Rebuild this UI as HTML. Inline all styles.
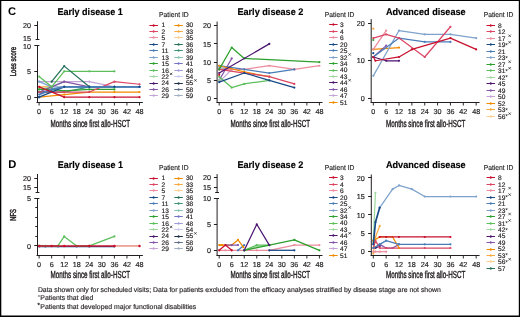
<!DOCTYPE html><html><head><meta charset="utf-8"><style>html,body{margin:0;padding:0;background:#fff;}svg{display:block;will-change:transform;text-rendering:geometricPrecision;}</style></head><body>
<svg width="520" height="317" viewBox="0 0 520 317" font-family='"Liberation Sans", sans-serif'>
<rect x="0" y="0" width="520" height="317" fill="#fff"/>
<rect x="0" y="0" width="520" height="1" fill="#000"/>
<rect x="0" y="0" width="1.3" height="317" fill="#000"/>
<rect x="518.8" y="0" width="1.2" height="317" fill="#000"/>
<rect x="0" y="315.5" width="520" height="1.5" fill="#000"/>
<text x="8.10" y="14.90" font-size="11.2" text-anchor="start" font-weight="bold" fill="#000" >C</text>
<text x="8.30" y="167.70" font-size="11.2" text-anchor="start" font-weight="bold" fill="#000" >D</text>
<text x="57.50" y="15.20" font-size="9.7" font-weight="bold" fill="#000" stroke="#000" stroke-width="0.15" textLength="65.30" lengthAdjust="spacingAndGlyphs">Early disease 1</text>
<text x="237.40" y="15.20" font-size="9.7" font-weight="bold" fill="#000" stroke="#000" stroke-width="0.15" textLength="66.00" lengthAdjust="spacingAndGlyphs">Early disease 2</text>
<text x="385.90" y="15.20" font-size="9.7" font-weight="bold" fill="#000" stroke="#000" stroke-width="0.15" textLength="79.80" lengthAdjust="spacingAndGlyphs">Advanced disease</text>
<text x="57.80" y="168.10" font-size="9.7" font-weight="bold" fill="#000" stroke="#000" stroke-width="0.15" textLength="65.20" lengthAdjust="spacingAndGlyphs">Early disease 1</text>
<text x="237.40" y="168.10" font-size="9.7" font-weight="bold" fill="#000" stroke="#000" stroke-width="0.15" textLength="66.00" lengthAdjust="spacingAndGlyphs">Early disease 2</text>
<text x="385.90" y="168.10" font-size="9.7" font-weight="bold" fill="#000" stroke="#000" stroke-width="0.15" textLength="79.80" lengthAdjust="spacingAndGlyphs">Advanced disease</text>
<text x="159.10" y="17.30" font-size="7.2" text-anchor="start" font-weight="normal" fill="#231f20" stroke="#231f20" stroke-width="0.15" textLength="29.6" lengthAdjust="spacingAndGlyphs">Patient ID</text>
<text x="324.80" y="17.30" font-size="7.2" text-anchor="start" font-weight="normal" fill="#231f20" stroke="#231f20" stroke-width="0.15" textLength="29.6" lengthAdjust="spacingAndGlyphs">Patient ID</text>
<text x="483.70" y="17.30" font-size="7.2" text-anchor="start" font-weight="normal" fill="#231f20" stroke="#231f20" stroke-width="0.15" textLength="29.6" lengthAdjust="spacingAndGlyphs">Patient ID</text>
<text x="159.00" y="170.00" font-size="7.2" text-anchor="start" font-weight="normal" fill="#231f20" stroke="#231f20" stroke-width="0.15" textLength="29.6" lengthAdjust="spacingAndGlyphs">Patient ID</text>
<text x="324.80" y="170.00" font-size="7.2" text-anchor="start" font-weight="normal" fill="#231f20" stroke="#231f20" stroke-width="0.15" textLength="29.6" lengthAdjust="spacingAndGlyphs">Patient ID</text>
<text x="483.70" y="170.00" font-size="7.2" text-anchor="start" font-weight="normal" fill="#231f20" stroke="#231f20" stroke-width="0.15" textLength="29.6" lengthAdjust="spacingAndGlyphs">Patient ID</text>
<text x="0" y="0" font-size="8.6" fill="#231f20" text-anchor="middle" transform="translate(15.50,61.60) rotate(-90)" textLength="29.30" lengthAdjust="spacingAndGlyphs" stroke="#231f20" stroke-width="0.45">Loes score</text>
<text x="0" y="0" font-size="8.6" fill="#231f20" text-anchor="middle" transform="translate(16.30,214.90) rotate(-90)" textLength="11.70" lengthAdjust="spacingAndGlyphs" stroke="#231f20" stroke-width="0.45">NFS</text>
<line x1="37.50" y1="21.20" x2="37.50" y2="39.40" stroke="#231f20" stroke-width="1.0"/>
<line x1="35.60" y1="39.50" x2="39.40" y2="39.50" stroke="#231f20" stroke-width="1.0"/>
<line x1="34.30" y1="25.50" x2="37.50" y2="25.50" stroke="#231f20" stroke-width="1.0"/>
<text x="30.90" y="27.70" font-size="7.2" text-anchor="end" font-weight="normal" fill="#231f20" stroke="#231f20" stroke-width="0.18" >20</text>
<text x="30.90" y="40.90" font-size="7.2" text-anchor="end" font-weight="normal" fill="#231f20" stroke="#231f20" stroke-width="0.18" >15</text>
<line x1="37.50" y1="45.40" x2="37.50" y2="103.00" stroke="#231f20" stroke-width="1.0"/>
<line x1="35.60" y1="45.50" x2="39.40" y2="45.50" stroke="#231f20" stroke-width="1.0"/>
<line x1="34.30" y1="45.50" x2="37.50" y2="45.50" stroke="#231f20" stroke-width="1.0"/>
<line x1="34.30" y1="71.50" x2="37.50" y2="71.50" stroke="#231f20" stroke-width="1.0"/>
<line x1="34.30" y1="97.50" x2="37.50" y2="97.50" stroke="#231f20" stroke-width="1.0"/>
<text x="30.90" y="48.90" font-size="7.2" text-anchor="end" font-weight="normal" fill="#231f20" stroke="#231f20" stroke-width="0.18" >10</text>
<text x="30.90" y="73.90" font-size="7.2" text-anchor="end" font-weight="normal" fill="#231f20" stroke="#231f20" stroke-width="0.18" >5</text>
<text x="30.90" y="99.80" font-size="7.2" text-anchor="end" font-weight="normal" fill="#231f20" stroke="#231f20" stroke-width="0.18" >0</text>
<line x1="36.50" y1="102.50" x2="142.90" y2="102.50" stroke="#231f20" stroke-width="1.0"/>
<line x1="39.10" y1="102.50" x2="39.10" y2="105.50" stroke="#231f20" stroke-width="0.95"/>
<text x="39.10" y="113.90" font-size="7.2" text-anchor="middle" font-weight="normal" fill="#231f20" stroke="#231f20" stroke-width="0.18" >0</text>
<line x1="51.65" y1="102.50" x2="51.65" y2="105.50" stroke="#231f20" stroke-width="0.95"/>
<text x="51.65" y="113.90" font-size="7.2" text-anchor="middle" font-weight="normal" fill="#231f20" stroke="#231f20" stroke-width="0.18" >6</text>
<line x1="64.20" y1="102.50" x2="64.20" y2="105.50" stroke="#231f20" stroke-width="0.95"/>
<text x="64.20" y="113.90" font-size="7.2" text-anchor="middle" font-weight="normal" fill="#231f20" stroke="#231f20" stroke-width="0.18" >12</text>
<line x1="76.75" y1="102.50" x2="76.75" y2="105.50" stroke="#231f20" stroke-width="0.95"/>
<text x="76.75" y="113.90" font-size="7.2" text-anchor="middle" font-weight="normal" fill="#231f20" stroke="#231f20" stroke-width="0.18" >18</text>
<line x1="89.30" y1="102.50" x2="89.30" y2="105.50" stroke="#231f20" stroke-width="0.95"/>
<text x="89.30" y="113.90" font-size="7.2" text-anchor="middle" font-weight="normal" fill="#231f20" stroke="#231f20" stroke-width="0.18" >24</text>
<line x1="101.85" y1="102.50" x2="101.85" y2="105.50" stroke="#231f20" stroke-width="0.95"/>
<text x="101.85" y="113.90" font-size="7.2" text-anchor="middle" font-weight="normal" fill="#231f20" stroke="#231f20" stroke-width="0.18" >30</text>
<line x1="114.40" y1="102.50" x2="114.40" y2="105.50" stroke="#231f20" stroke-width="0.95"/>
<text x="114.40" y="113.90" font-size="7.2" text-anchor="middle" font-weight="normal" fill="#231f20" stroke="#231f20" stroke-width="0.18" >36</text>
<line x1="126.95" y1="102.50" x2="126.95" y2="105.50" stroke="#231f20" stroke-width="0.95"/>
<text x="126.95" y="113.90" font-size="7.2" text-anchor="middle" font-weight="normal" fill="#231f20" stroke="#231f20" stroke-width="0.18" >42</text>
<line x1="139.50" y1="102.50" x2="139.50" y2="105.50" stroke="#231f20" stroke-width="0.95"/>
<text x="139.50" y="113.90" font-size="7.2" text-anchor="middle" font-weight="normal" fill="#231f20" stroke="#231f20" stroke-width="0.18" >48</text>
<text x="50.60" y="126.70" font-size="10.2" fill="#231f20" textLength="79.40" lengthAdjust="spacingAndGlyphs" stroke="#231f20" stroke-width="0.42">Months since first allo-HSCT</text>
<polyline points="39.10,89.43 51.65,87.88" fill="none" stroke="#fbcf90" stroke-width="1.25" stroke-linejoin="round"/>
<circle cx="39.10" cy="89.43" r="1.1" fill="#fbcf90"/>
<circle cx="51.65" cy="87.88" r="1.1" fill="#fbcf90"/>
<polyline points="39.10,86.84 51.65,86.84" fill="none" stroke="#f8aa40" stroke-width="1.25" stroke-linejoin="round"/>
<circle cx="39.10" cy="86.84" r="1.1" fill="#f8aa40"/>
<circle cx="51.65" cy="86.84" r="1.1" fill="#f8aa40"/>
<polyline points="39.10,81.66 51.65,81.66 64.20,81.66 89.30,81.66 114.40,86.84" fill="none" stroke="#c3a5d6" stroke-width="1.25" stroke-linejoin="round"/>
<circle cx="39.10" cy="81.66" r="1.1" fill="#c3a5d6"/>
<circle cx="51.65" cy="81.66" r="1.1" fill="#c3a5d6"/>
<circle cx="64.20" cy="81.66" r="1.1" fill="#c3a5d6"/>
<circle cx="89.30" cy="81.66" r="1.1" fill="#c3a5d6"/>
<circle cx="114.40" cy="86.84" r="1.1" fill="#c3a5d6"/>
<polyline points="39.10,89.43 51.65,86.84 64.20,81.66" fill="none" stroke="#9fd89f" stroke-width="1.25" stroke-linejoin="round"/>
<circle cx="39.10" cy="89.43" r="1.1" fill="#9fd89f"/>
<circle cx="51.65" cy="86.84" r="1.1" fill="#9fd89f"/>
<circle cx="64.20" cy="81.66" r="1.1" fill="#9fd89f"/>
<polyline points="39.10,92.02 51.65,92.02 64.20,92.02" fill="none" stroke="#ec8c9c" stroke-width="1.25" stroke-linejoin="round"/>
<circle cx="39.10" cy="92.02" r="1.1" fill="#ec8c9c"/>
<circle cx="51.65" cy="92.02" r="1.1" fill="#ec8c9c"/>
<circle cx="64.20" cy="92.02" r="1.1" fill="#ec8c9c"/>
<polyline points="39.10,81.66 51.65,86.84 64.20,86.84" fill="none" stroke="#7ea2cc" stroke-width="1.25" stroke-linejoin="round"/>
<circle cx="39.10" cy="81.66" r="1.1" fill="#7ea2cc"/>
<circle cx="51.65" cy="86.84" r="1.1" fill="#7ea2cc"/>
<circle cx="64.20" cy="86.84" r="1.1" fill="#7ea2cc"/>
<polyline points="39.10,92.02 51.65,90.98" fill="none" stroke="#4b1570" stroke-width="1.25" stroke-linejoin="round"/>
<circle cx="39.10" cy="92.02" r="1.1" fill="#4b1570"/>
<circle cx="51.65" cy="90.98" r="1.1" fill="#4b1570"/>
<polyline points="39.10,92.02 51.65,86.84 64.20,81.66 89.30,86.84" fill="none" stroke="#8455a8" stroke-width="1.25" stroke-linejoin="round"/>
<circle cx="39.10" cy="92.02" r="1.1" fill="#8455a8"/>
<circle cx="51.65" cy="86.84" r="1.1" fill="#8455a8"/>
<circle cx="64.20" cy="81.66" r="1.1" fill="#8455a8"/>
<circle cx="89.30" cy="86.84" r="1.1" fill="#8455a8"/>
<polyline points="39.10,92.02 64.20,92.02 89.30,86.84 114.40,86.84" fill="none" stroke="#3b9479" stroke-width="1.25" stroke-linejoin="round"/>
<circle cx="39.10" cy="92.02" r="1.1" fill="#3b9479"/>
<circle cx="64.20" cy="92.02" r="1.1" fill="#3b9479"/>
<circle cx="89.30" cy="86.84" r="1.1" fill="#3b9479"/>
<circle cx="114.40" cy="86.84" r="1.1" fill="#3b9479"/>
<polyline points="39.10,89.43 51.65,89.43 64.20,90.98 89.30,89.43 114.40,89.43" fill="none" stroke="#2ca02c" stroke-width="1.25" stroke-linejoin="round"/>
<circle cx="39.10" cy="89.43" r="1.1" fill="#2ca02c"/>
<circle cx="51.65" cy="89.43" r="1.1" fill="#2ca02c"/>
<circle cx="64.20" cy="90.98" r="1.1" fill="#2ca02c"/>
<circle cx="89.30" cy="89.43" r="1.1" fill="#2ca02c"/>
<circle cx="114.40" cy="89.43" r="1.1" fill="#2ca02c"/>
<polyline points="39.10,97.20 64.20,94.61 89.30,92.02 114.40,92.02 139.50,92.02" fill="none" stroke="#f28a00" stroke-width="1.25" stroke-linejoin="round"/>
<circle cx="39.10" cy="97.20" r="1.1" fill="#f28a00"/>
<circle cx="64.20" cy="94.61" r="1.1" fill="#f28a00"/>
<circle cx="89.30" cy="92.02" r="1.1" fill="#f28a00"/>
<circle cx="114.40" cy="92.02" r="1.1" fill="#f28a00"/>
<circle cx="139.50" cy="92.02" r="1.1" fill="#f28a00"/>
<polyline points="39.10,92.02 64.20,92.02 89.30,92.02 114.40,81.66 139.50,84.25" fill="none" stroke="#dc4664" stroke-width="1.25" stroke-linejoin="round"/>
<circle cx="39.10" cy="92.02" r="1.1" fill="#dc4664"/>
<circle cx="64.20" cy="92.02" r="1.1" fill="#dc4664"/>
<circle cx="89.30" cy="92.02" r="1.1" fill="#dc4664"/>
<circle cx="114.40" cy="81.66" r="1.1" fill="#dc4664"/>
<circle cx="139.50" cy="84.25" r="1.1" fill="#dc4664"/>
<polyline points="39.10,76.48 51.65,86.84 64.20,71.30 89.30,71.30 114.40,71.30" fill="none" stroke="#5cbf5c" stroke-width="1.25" stroke-linejoin="round"/>
<circle cx="39.10" cy="76.48" r="1.1" fill="#5cbf5c"/>
<circle cx="51.65" cy="86.84" r="1.1" fill="#5cbf5c"/>
<circle cx="64.20" cy="71.30" r="1.1" fill="#5cbf5c"/>
<circle cx="89.30" cy="71.30" r="1.1" fill="#5cbf5c"/>
<circle cx="114.40" cy="71.30" r="1.1" fill="#5cbf5c"/>
<polyline points="51.65,81.66 64.20,66.12 89.30,86.84" fill="none" stroke="#24705a" stroke-width="1.25" stroke-linejoin="round"/>
<circle cx="51.65" cy="81.66" r="1.1" fill="#24705a"/>
<circle cx="64.20" cy="66.12" r="1.1" fill="#24705a"/>
<circle cx="89.30" cy="86.84" r="1.1" fill="#24705a"/>
<polyline points="39.10,97.20 64.20,86.84 89.30,86.84 114.40,86.84 139.50,86.84" fill="none" stroke="#174a86" stroke-width="1.25" stroke-linejoin="round"/>
<circle cx="39.10" cy="97.20" r="1.1" fill="#174a86"/>
<circle cx="64.20" cy="86.84" r="1.1" fill="#174a86"/>
<circle cx="89.30" cy="86.84" r="1.1" fill="#174a86"/>
<circle cx="114.40" cy="86.84" r="1.1" fill="#174a86"/>
<circle cx="139.50" cy="86.84" r="1.1" fill="#174a86"/>
<polyline points="39.10,94.61 51.65,89.43 64.20,86.84 89.30,86.84 114.40,86.84 139.50,86.84" fill="none" stroke="#4a7db8" stroke-width="1.9" stroke-linejoin="round"/>
<circle cx="39.10" cy="94.61" r="1.1" fill="#4a7db8"/>
<circle cx="51.65" cy="89.43" r="1.1" fill="#4a7db8"/>
<circle cx="64.20" cy="86.84" r="1.1" fill="#4a7db8"/>
<circle cx="89.30" cy="86.84" r="1.1" fill="#4a7db8"/>
<circle cx="114.40" cy="86.84" r="1.1" fill="#4a7db8"/>
<circle cx="139.50" cy="86.84" r="1.1" fill="#4a7db8"/>
<polyline points="39.10,86.84 64.20,97.20 89.30,97.20 114.40,97.20 139.50,97.20" fill="none" stroke="#c8102e" stroke-width="1.25" stroke-linejoin="round"/>
<circle cx="39.10" cy="86.84" r="1.1" fill="#c8102e"/>
<circle cx="64.20" cy="97.20" r="1.1" fill="#c8102e"/>
<circle cx="89.30" cy="97.20" r="1.1" fill="#c8102e"/>
<circle cx="114.40" cy="97.20" r="1.1" fill="#c8102e"/>
<circle cx="139.50" cy="97.20" r="1.1" fill="#c8102e"/>
<circle cx="39.10" cy="97.20" r="1.15" fill="#174a86"/>
<circle cx="64.20" cy="86.84" r="1.15" fill="#174a86"/>
<circle cx="89.30" cy="86.84" r="1.15" fill="#174a86"/>
<circle cx="114.40" cy="86.84" r="1.15" fill="#174a86"/>
<circle cx="139.50" cy="86.84" r="1.15" fill="#174a86"/>
<line x1="149.40" y1="25.50" x2="157.90" y2="25.50" stroke="#c8102e" stroke-width="1.0"/>
<ellipse cx="153.65" cy="25.50" rx="1.0" ry="1.2" fill="#c8102e"/>
<text x="161.60" y="27.35" font-size="6.6" text-anchor="start" font-weight="normal" fill="#231f20" stroke="#231f20" stroke-width="0.18" >1</text>
<line x1="149.40" y1="31.50" x2="157.90" y2="31.50" stroke="#dc4664" stroke-width="1.0"/>
<ellipse cx="153.65" cy="31.50" rx="1.0" ry="1.2" fill="#dc4664"/>
<text x="161.60" y="33.80" font-size="6.6" text-anchor="start" font-weight="normal" fill="#231f20" stroke="#231f20" stroke-width="0.18" >2</text>
<line x1="149.40" y1="37.50" x2="157.90" y2="37.50" stroke="#ec8c9c" stroke-width="1.0"/>
<ellipse cx="153.65" cy="37.50" rx="1.0" ry="1.2" fill="#ec8c9c"/>
<text x="161.60" y="40.25" font-size="6.6" text-anchor="start" font-weight="normal" fill="#231f20" stroke="#231f20" stroke-width="0.18" >5</text>
<line x1="149.40" y1="44.50" x2="157.90" y2="44.50" stroke="#174a86" stroke-width="1.0"/>
<ellipse cx="153.65" cy="44.50" rx="1.0" ry="1.2" fill="#174a86"/>
<text x="161.60" y="46.70" font-size="6.6" text-anchor="start" font-weight="normal" fill="#231f20" stroke="#231f20" stroke-width="0.18" >7</text>
<line x1="149.40" y1="50.50" x2="157.90" y2="50.50" stroke="#4a7db8" stroke-width="1.0"/>
<ellipse cx="153.65" cy="50.50" rx="1.0" ry="1.2" fill="#4a7db8"/>
<text x="161.60" y="53.15" font-size="6.6" text-anchor="start" font-weight="normal" fill="#231f20" stroke="#231f20" stroke-width="0.18" >11</text>
<line x1="149.40" y1="57.50" x2="157.90" y2="57.50" stroke="#7ea2cc" stroke-width="1.0"/>
<ellipse cx="153.65" cy="57.50" rx="1.0" ry="1.2" fill="#7ea2cc"/>
<text x="161.60" y="59.60" font-size="6.6" text-anchor="start" font-weight="normal" fill="#231f20" stroke="#231f20" stroke-width="0.18" >13</text>
<line x1="149.40" y1="63.50" x2="157.90" y2="63.50" stroke="#2ca02c" stroke-width="1.0"/>
<ellipse cx="153.65" cy="63.50" rx="1.0" ry="1.2" fill="#2ca02c"/>
<text x="161.60" y="66.05" font-size="6.6" text-anchor="start" font-weight="normal" fill="#231f20" stroke="#231f20" stroke-width="0.18" >15</text>
<line x1="149.40" y1="70.50" x2="157.90" y2="70.50" stroke="#5cbf5c" stroke-width="1.0"/>
<ellipse cx="153.65" cy="70.50" rx="1.0" ry="1.2" fill="#5cbf5c"/>
<text x="161.60" y="72.50" font-size="6.6" text-anchor="start" font-weight="normal" fill="#231f20" stroke="#231f20" stroke-width="0.18" >16</text>
<line x1="149.40" y1="76.50" x2="157.90" y2="76.50" stroke="#9fd89f" stroke-width="1.0"/>
<ellipse cx="153.65" cy="76.50" rx="1.0" ry="1.2" fill="#9fd89f"/>
<text x="161.60" y="78.95" font-size="6.6" text-anchor="start" font-weight="normal" fill="#231f20" stroke="#231f20" stroke-width="0.18" >22</text>
<path d="M169.94,72.70L172.34,75.10M169.94,75.10L172.34,72.70" stroke="#231f20" stroke-width="0.7" fill="none"/>
<line x1="149.40" y1="83.50" x2="157.90" y2="83.50" stroke="#4b1570" stroke-width="1.0"/>
<ellipse cx="153.65" cy="83.50" rx="1.0" ry="1.2" fill="#4b1570"/>
<text x="161.60" y="85.40" font-size="6.6" text-anchor="start" font-weight="normal" fill="#231f20" stroke="#231f20" stroke-width="0.18" >24</text>
<line x1="149.40" y1="89.50" x2="157.90" y2="89.50" stroke="#8455a8" stroke-width="1.0"/>
<ellipse cx="153.65" cy="89.50" rx="1.0" ry="1.2" fill="#8455a8"/>
<text x="161.60" y="91.85" font-size="6.6" text-anchor="start" font-weight="normal" fill="#231f20" stroke="#231f20" stroke-width="0.18" >26</text>
<line x1="149.40" y1="95.50" x2="157.90" y2="95.50" stroke="#c3a5d6" stroke-width="1.0"/>
<ellipse cx="153.65" cy="95.50" rx="1.0" ry="1.2" fill="#c3a5d6"/>
<text x="161.60" y="98.30" font-size="6.6" text-anchor="start" font-weight="normal" fill="#231f20" stroke="#231f20" stroke-width="0.18" >29</text>
<line x1="174.30" y1="25.50" x2="182.80" y2="25.50" stroke="#f28a00" stroke-width="1.0"/>
<ellipse cx="178.55" cy="25.50" rx="1.0" ry="1.2" fill="#f28a00"/>
<text x="185.90" y="27.35" font-size="6.6" text-anchor="start" font-weight="normal" fill="#231f20" stroke="#231f20" stroke-width="0.18" >30</text>
<line x1="174.30" y1="31.50" x2="182.80" y2="31.50" stroke="#f8aa40" stroke-width="1.0"/>
<ellipse cx="178.55" cy="31.50" rx="1.0" ry="1.2" fill="#f8aa40"/>
<text x="185.90" y="33.80" font-size="6.6" text-anchor="start" font-weight="normal" fill="#231f20" stroke="#231f20" stroke-width="0.18" >33</text>
<line x1="174.30" y1="37.50" x2="182.80" y2="37.50" stroke="#fbcf90" stroke-width="1.0"/>
<ellipse cx="178.55" cy="37.50" rx="1.0" ry="1.2" fill="#fbcf90"/>
<text x="185.90" y="40.25" font-size="6.6" text-anchor="start" font-weight="normal" fill="#231f20" stroke="#231f20" stroke-width="0.18" >35</text>
<line x1="174.30" y1="44.50" x2="182.80" y2="44.50" stroke="#24705a" stroke-width="1.0"/>
<ellipse cx="178.55" cy="44.50" rx="1.0" ry="1.2" fill="#24705a"/>
<text x="185.90" y="46.70" font-size="6.6" text-anchor="start" font-weight="normal" fill="#231f20" stroke="#231f20" stroke-width="0.18" >36</text>
<line x1="174.30" y1="50.50" x2="182.80" y2="50.50" stroke="#3b9479" stroke-width="1.0"/>
<ellipse cx="178.55" cy="50.50" rx="1.0" ry="1.2" fill="#3b9479"/>
<text x="185.90" y="53.15" font-size="6.6" text-anchor="start" font-weight="normal" fill="#231f20" stroke="#231f20" stroke-width="0.18" >38</text>
<line x1="174.30" y1="57.50" x2="182.80" y2="57.50" stroke="#86c2b0" stroke-width="1.0"/>
<ellipse cx="178.55" cy="57.50" rx="1.0" ry="1.2" fill="#86c2b0"/>
<text x="185.90" y="59.60" font-size="6.6" text-anchor="start" font-weight="normal" fill="#231f20" stroke="#231f20" stroke-width="0.18" >39</text>
<line x1="174.30" y1="63.50" x2="182.80" y2="63.50" stroke="#7674c6" stroke-width="1.0"/>
<ellipse cx="178.55" cy="63.50" rx="1.0" ry="1.2" fill="#7674c6"/>
<text x="185.90" y="66.05" font-size="6.6" text-anchor="start" font-weight="normal" fill="#231f20" stroke="#231f20" stroke-width="0.18" >41</text>
<line x1="174.30" y1="70.50" x2="182.80" y2="70.50" stroke="#a09ed8" stroke-width="1.0"/>
<ellipse cx="178.55" cy="70.50" rx="1.0" ry="1.2" fill="#a09ed8"/>
<text x="185.90" y="72.50" font-size="6.6" text-anchor="start" font-weight="normal" fill="#231f20" stroke="#231f20" stroke-width="0.18" >48</text>
<line x1="174.30" y1="76.50" x2="182.80" y2="76.50" stroke="#c9c9ef" stroke-width="1.0"/>
<ellipse cx="178.55" cy="76.50" rx="1.0" ry="1.2" fill="#c9c9ef"/>
<text x="185.90" y="78.95" font-size="6.6" text-anchor="start" font-weight="normal" fill="#231f20" stroke="#231f20" stroke-width="0.18" >54</text>
<line x1="174.30" y1="83.50" x2="182.80" y2="83.50" stroke="#1f2f46" stroke-width="1.0"/>
<ellipse cx="178.55" cy="83.50" rx="1.0" ry="1.2" fill="#1f2f46"/>
<text x="185.90" y="85.40" font-size="6.6" text-anchor="start" font-weight="normal" fill="#231f20" stroke="#231f20" stroke-width="0.18" >55</text>
<path d="M194.24,79.15L196.64,81.55M194.24,81.55L196.64,79.15" stroke="#231f20" stroke-width="0.7" fill="none"/>
<line x1="174.30" y1="89.50" x2="182.80" y2="89.50" stroke="#5f6f88" stroke-width="1.0"/>
<ellipse cx="178.55" cy="89.50" rx="1.0" ry="1.2" fill="#5f6f88"/>
<text x="185.90" y="91.85" font-size="6.6" text-anchor="start" font-weight="normal" fill="#231f20" stroke="#231f20" stroke-width="0.18" >58</text>
<line x1="174.30" y1="95.50" x2="182.80" y2="95.50" stroke="#a2b0c2" stroke-width="1.0"/>
<ellipse cx="178.55" cy="95.50" rx="1.0" ry="1.2" fill="#a2b0c2"/>
<text x="185.90" y="98.30" font-size="6.6" text-anchor="start" font-weight="normal" fill="#231f20" stroke="#231f20" stroke-width="0.18" >59</text>
<line x1="217.10" y1="21.60" x2="217.10" y2="103.00" stroke="#231f20" stroke-width="1.0"/>
<line x1="213.90" y1="98.50" x2="217.10" y2="98.50" stroke="#231f20" stroke-width="1.0"/>
<line x1="213.90" y1="80.50" x2="217.10" y2="80.50" stroke="#231f20" stroke-width="1.0"/>
<line x1="213.90" y1="62.50" x2="217.10" y2="62.50" stroke="#231f20" stroke-width="1.0"/>
<line x1="213.90" y1="43.50" x2="217.10" y2="43.50" stroke="#231f20" stroke-width="1.0"/>
<line x1="213.90" y1="25.50" x2="217.10" y2="25.50" stroke="#231f20" stroke-width="1.0"/>
<text x="211.00" y="101.10" font-size="7.2" text-anchor="end" font-weight="normal" fill="#231f20" stroke="#231f20" stroke-width="0.18" >0</text>
<text x="211.00" y="82.90" font-size="7.2" text-anchor="end" font-weight="normal" fill="#231f20" stroke="#231f20" stroke-width="0.18" >5</text>
<text x="211.00" y="64.70" font-size="7.2" text-anchor="end" font-weight="normal" fill="#231f20" stroke="#231f20" stroke-width="0.18" >10</text>
<text x="211.00" y="46.50" font-size="7.2" text-anchor="end" font-weight="normal" fill="#231f20" stroke="#231f20" stroke-width="0.18" >15</text>
<text x="211.00" y="28.30" font-size="7.2" text-anchor="end" font-weight="normal" fill="#231f20" stroke="#231f20" stroke-width="0.18" >20</text>
<line x1="216.60" y1="102.50" x2="322.50" y2="102.50" stroke="#231f20" stroke-width="1.0"/>
<line x1="219.20" y1="102.50" x2="219.20" y2="105.50" stroke="#231f20" stroke-width="0.95"/>
<text x="219.20" y="113.90" font-size="7.2" text-anchor="middle" font-weight="normal" fill="#231f20" stroke="#231f20" stroke-width="0.18" >0</text>
<line x1="231.72" y1="102.50" x2="231.72" y2="105.50" stroke="#231f20" stroke-width="0.95"/>
<text x="231.72" y="113.90" font-size="7.2" text-anchor="middle" font-weight="normal" fill="#231f20" stroke="#231f20" stroke-width="0.18" >6</text>
<line x1="244.25" y1="102.50" x2="244.25" y2="105.50" stroke="#231f20" stroke-width="0.95"/>
<text x="244.25" y="113.90" font-size="7.2" text-anchor="middle" font-weight="normal" fill="#231f20" stroke="#231f20" stroke-width="0.18" >12</text>
<line x1="256.77" y1="102.50" x2="256.77" y2="105.50" stroke="#231f20" stroke-width="0.95"/>
<text x="256.77" y="113.90" font-size="7.2" text-anchor="middle" font-weight="normal" fill="#231f20" stroke="#231f20" stroke-width="0.18" >18</text>
<line x1="269.30" y1="102.50" x2="269.30" y2="105.50" stroke="#231f20" stroke-width="0.95"/>
<text x="269.30" y="113.90" font-size="7.2" text-anchor="middle" font-weight="normal" fill="#231f20" stroke="#231f20" stroke-width="0.18" >24</text>
<line x1="281.82" y1="102.50" x2="281.82" y2="105.50" stroke="#231f20" stroke-width="0.95"/>
<text x="281.82" y="113.90" font-size="7.2" text-anchor="middle" font-weight="normal" fill="#231f20" stroke="#231f20" stroke-width="0.18" >30</text>
<line x1="294.35" y1="102.50" x2="294.35" y2="105.50" stroke="#231f20" stroke-width="0.95"/>
<text x="294.35" y="113.90" font-size="7.2" text-anchor="middle" font-weight="normal" fill="#231f20" stroke="#231f20" stroke-width="0.18" >36</text>
<line x1="306.88" y1="102.50" x2="306.88" y2="105.50" stroke="#231f20" stroke-width="0.95"/>
<text x="306.88" y="113.90" font-size="7.2" text-anchor="middle" font-weight="normal" fill="#231f20" stroke="#231f20" stroke-width="0.18" >42</text>
<line x1="319.40" y1="102.50" x2="319.40" y2="105.50" stroke="#231f20" stroke-width="0.95"/>
<text x="319.40" y="113.90" font-size="7.2" text-anchor="middle" font-weight="normal" fill="#231f20" stroke="#231f20" stroke-width="0.18" >48</text>
<text x="230.60" y="126.70" font-size="10.2" fill="#231f20" textLength="79.40" lengthAdjust="spacingAndGlyphs" stroke="#231f20" stroke-width="0.42">Months since first allo-HSCT</text>
<polyline points="219.20,82.12 231.72,69.38" fill="none" stroke="#c3a5d6" stroke-width="1.25" stroke-linejoin="round"/>
<circle cx="219.20" cy="82.12" r="1.1" fill="#c3a5d6"/>
<circle cx="231.72" cy="69.38" r="1.1" fill="#c3a5d6"/>
<polyline points="219.20,80.30 231.72,58.46" fill="none" stroke="#8455a8" stroke-width="1.25" stroke-linejoin="round"/>
<circle cx="219.20" cy="80.30" r="1.1" fill="#8455a8"/>
<circle cx="231.72" cy="58.46" r="1.1" fill="#8455a8"/>
<circle cx="219.20" cy="80.30" r="1.1" fill="#9fd89f"/>
<polyline points="219.20,76.66 231.72,87.58 244.25,83.94 269.30,80.30" fill="none" stroke="#5cbf5c" stroke-width="1.25" stroke-linejoin="round"/>
<circle cx="219.20" cy="76.66" r="1.1" fill="#5cbf5c"/>
<circle cx="231.72" cy="87.58" r="1.1" fill="#5cbf5c"/>
<circle cx="244.25" cy="83.94" r="1.1" fill="#5cbf5c"/>
<circle cx="269.30" cy="80.30" r="1.1" fill="#5cbf5c"/>
<polyline points="219.20,67.56 231.72,69.38" fill="none" stroke="#7ea2cc" stroke-width="1.25" stroke-linejoin="round"/>
<circle cx="219.20" cy="67.56" r="1.1" fill="#7ea2cc"/>
<circle cx="231.72" cy="69.38" r="1.1" fill="#7ea2cc"/>
<polyline points="219.20,69.38 244.25,69.38 269.30,65.74 294.35,69.38 319.40,65.74" fill="none" stroke="#ec8c9c" stroke-width="1.25" stroke-linejoin="round"/>
<circle cx="219.20" cy="69.38" r="1.1" fill="#ec8c9c"/>
<circle cx="244.25" cy="69.38" r="1.1" fill="#ec8c9c"/>
<circle cx="269.30" cy="65.74" r="1.1" fill="#ec8c9c"/>
<circle cx="294.35" cy="69.38" r="1.1" fill="#ec8c9c"/>
<circle cx="319.40" cy="65.74" r="1.1" fill="#ec8c9c"/>
<polyline points="219.20,65.74 244.25,69.38 269.30,73.02 294.35,69.38" fill="none" stroke="#4a7db8" stroke-width="1.25" stroke-linejoin="round"/>
<circle cx="219.20" cy="65.74" r="1.1" fill="#4a7db8"/>
<circle cx="244.25" cy="69.38" r="1.1" fill="#4a7db8"/>
<circle cx="269.30" cy="73.02" r="1.1" fill="#4a7db8"/>
<circle cx="294.35" cy="69.38" r="1.1" fill="#4a7db8"/>
<polyline points="219.20,65.74 244.25,71.93 269.30,76.66" fill="none" stroke="#f28a00" stroke-width="1.25" stroke-linejoin="round"/>
<circle cx="219.20" cy="65.74" r="1.1" fill="#f28a00"/>
<circle cx="244.25" cy="71.93" r="1.1" fill="#f28a00"/>
<circle cx="269.30" cy="76.66" r="1.1" fill="#f28a00"/>
<polyline points="219.20,69.38 244.25,73.02 269.30,76.66 294.35,83.94" fill="none" stroke="#dc4664" stroke-width="1.25" stroke-linejoin="round"/>
<circle cx="219.20" cy="69.38" r="1.1" fill="#dc4664"/>
<circle cx="244.25" cy="73.02" r="1.1" fill="#dc4664"/>
<circle cx="269.30" cy="76.66" r="1.1" fill="#dc4664"/>
<circle cx="294.35" cy="83.94" r="1.1" fill="#dc4664"/>
<polyline points="219.20,82.12 244.25,73.02 269.30,80.30 294.35,87.58" fill="none" stroke="#174a86" stroke-width="1.25" stroke-linejoin="round"/>
<circle cx="219.20" cy="82.12" r="1.1" fill="#174a86"/>
<circle cx="244.25" cy="73.02" r="1.1" fill="#174a86"/>
<circle cx="269.30" cy="80.30" r="1.1" fill="#174a86"/>
<circle cx="294.35" cy="87.58" r="1.1" fill="#174a86"/>
<polyline points="219.20,69.38 231.72,47.54 244.25,58.46 319.40,62.10" fill="none" stroke="#2ca02c" stroke-width="1.25" stroke-linejoin="round"/>
<circle cx="219.20" cy="69.38" r="1.1" fill="#2ca02c"/>
<circle cx="231.72" cy="47.54" r="1.1" fill="#2ca02c"/>
<circle cx="244.25" cy="58.46" r="1.1" fill="#2ca02c"/>
<circle cx="319.40" cy="62.10" r="1.1" fill="#2ca02c"/>
<polyline points="219.20,73.02 269.30,43.90" fill="none" stroke="#4b1570" stroke-width="1.25" stroke-linejoin="round"/>
<circle cx="219.20" cy="73.02" r="1.1" fill="#4b1570"/>
<circle cx="269.30" cy="43.90" r="1.1" fill="#4b1570"/>
<circle cx="219.20" cy="74.84" r="1.1" fill="#c8102e"/>
<line x1="329.10" y1="24.50" x2="337.60" y2="24.50" stroke="#c8102e" stroke-width="1.0"/>
<ellipse cx="333.35" cy="24.50" rx="1.0" ry="1.2" fill="#c8102e"/>
<text x="340.10" y="27.25" font-size="6.6" text-anchor="start" font-weight="normal" fill="#231f20" stroke="#231f20" stroke-width="0.18" >3</text>
<line x1="329.10" y1="31.50" x2="337.60" y2="31.50" stroke="#dc4664" stroke-width="1.0"/>
<ellipse cx="333.35" cy="31.50" rx="1.0" ry="1.2" fill="#dc4664"/>
<text x="340.10" y="33.70" font-size="6.6" text-anchor="start" font-weight="normal" fill="#231f20" stroke="#231f20" stroke-width="0.18" >4</text>
<line x1="329.10" y1="37.50" x2="337.60" y2="37.50" stroke="#ec8c9c" stroke-width="1.0"/>
<ellipse cx="333.35" cy="37.50" rx="1.0" ry="1.2" fill="#ec8c9c"/>
<text x="340.10" y="40.15" font-size="6.6" text-anchor="start" font-weight="normal" fill="#231f20" stroke="#231f20" stroke-width="0.18" >6</text>
<line x1="329.10" y1="44.50" x2="337.60" y2="44.50" stroke="#174a86" stroke-width="1.0"/>
<ellipse cx="333.35" cy="44.50" rx="1.0" ry="1.2" fill="#174a86"/>
<text x="340.10" y="46.60" font-size="6.6" text-anchor="start" font-weight="normal" fill="#231f20" stroke="#231f20" stroke-width="0.18" >20</text>
<line x1="329.10" y1="50.50" x2="337.60" y2="50.50" stroke="#4a7db8" stroke-width="1.0"/>
<ellipse cx="333.35" cy="50.50" rx="1.0" ry="1.2" fill="#4a7db8"/>
<text x="340.10" y="53.05" font-size="6.6" text-anchor="start" font-weight="normal" fill="#231f20" stroke="#231f20" stroke-width="0.18" >25</text>
<line x1="329.10" y1="57.50" x2="337.60" y2="57.50" stroke="#7ea2cc" stroke-width="1.0"/>
<ellipse cx="333.35" cy="57.50" rx="1.0" ry="1.2" fill="#7ea2cc"/>
<text x="340.10" y="59.50" font-size="6.6" text-anchor="start" font-weight="normal" fill="#231f20" stroke="#231f20" stroke-width="0.18" >32</text>
<path d="M348.44,53.25L350.84,55.65M348.44,55.65L350.84,53.25" stroke="#231f20" stroke-width="0.7" fill="none"/>
<line x1="329.10" y1="63.50" x2="337.60" y2="63.50" stroke="#2ca02c" stroke-width="1.0"/>
<ellipse cx="333.35" cy="63.50" rx="1.0" ry="1.2" fill="#2ca02c"/>
<text x="340.10" y="65.95" font-size="6.6" text-anchor="start" font-weight="normal" fill="#231f20" stroke="#231f20" stroke-width="0.18" >34</text>
<line x1="329.10" y1="70.50" x2="337.60" y2="70.50" stroke="#5cbf5c" stroke-width="1.0"/>
<ellipse cx="333.35" cy="70.50" rx="1.0" ry="1.2" fill="#5cbf5c"/>
<text x="340.10" y="72.40" font-size="6.6" text-anchor="start" font-weight="normal" fill="#231f20" stroke="#231f20" stroke-width="0.18" >40</text>
<line x1="329.10" y1="76.50" x2="337.60" y2="76.50" stroke="#9fd89f" stroke-width="1.0"/>
<ellipse cx="333.35" cy="76.50" rx="1.0" ry="1.2" fill="#9fd89f"/>
<text x="340.10" y="78.85" font-size="6.6" text-anchor="start" font-weight="normal" fill="#231f20" stroke="#231f20" stroke-width="0.18" >43</text>
<line x1="329.10" y1="82.50" x2="337.60" y2="82.50" stroke="#4b1570" stroke-width="1.0"/>
<ellipse cx="333.35" cy="82.50" rx="1.0" ry="1.2" fill="#4b1570"/>
<text x="340.10" y="85.30" font-size="6.6" text-anchor="start" font-weight="normal" fill="#231f20" stroke="#231f20" stroke-width="0.18" >44</text>
<path d="M348.44,79.05L350.84,81.45M348.44,81.45L350.84,79.05" stroke="#231f20" stroke-width="0.7" fill="none"/>
<line x1="329.10" y1="89.50" x2="337.60" y2="89.50" stroke="#8455a8" stroke-width="1.0"/>
<ellipse cx="333.35" cy="89.50" rx="1.0" ry="1.2" fill="#8455a8"/>
<text x="340.10" y="91.75" font-size="6.6" text-anchor="start" font-weight="normal" fill="#231f20" stroke="#231f20" stroke-width="0.18" >46</text>
<line x1="329.10" y1="95.50" x2="337.60" y2="95.50" stroke="#c3a5d6" stroke-width="1.0"/>
<ellipse cx="333.35" cy="95.50" rx="1.0" ry="1.2" fill="#c3a5d6"/>
<text x="340.10" y="98.20" font-size="6.6" text-anchor="start" font-weight="normal" fill="#231f20" stroke="#231f20" stroke-width="0.18" >47</text>
<line x1="329.10" y1="102.50" x2="337.60" y2="102.50" stroke="#f28a00" stroke-width="1.0"/>
<ellipse cx="333.35" cy="102.50" rx="1.0" ry="1.2" fill="#f28a00"/>
<text x="340.10" y="104.65" font-size="6.6" text-anchor="start" font-weight="normal" fill="#231f20" stroke="#231f20" stroke-width="0.18" >51</text>
<line x1="371.20" y1="19.10" x2="371.20" y2="103.00" stroke="#231f20" stroke-width="1.0"/>
<line x1="368.00" y1="98.50" x2="371.20" y2="98.50" stroke="#231f20" stroke-width="1.0"/>
<line x1="368.00" y1="60.50" x2="371.20" y2="60.50" stroke="#231f20" stroke-width="1.0"/>
<line x1="368.00" y1="23.50" x2="371.20" y2="23.50" stroke="#231f20" stroke-width="1.0"/>
<text x="364.70" y="101.10" font-size="7.2" text-anchor="end" font-weight="normal" fill="#231f20" stroke="#231f20" stroke-width="0.18" >0</text>
<text x="364.70" y="63.40" font-size="7.2" text-anchor="end" font-weight="normal" fill="#231f20" stroke="#231f20" stroke-width="0.18" >10</text>
<text x="364.70" y="25.60" font-size="7.2" text-anchor="end" font-weight="normal" fill="#231f20" stroke="#231f20" stroke-width="0.18" >20</text>
<line x1="370.70" y1="102.50" x2="479.60" y2="102.50" stroke="#231f20" stroke-width="1.0"/>
<line x1="373.30" y1="102.50" x2="373.30" y2="105.50" stroke="#231f20" stroke-width="0.95"/>
<text x="373.30" y="113.90" font-size="7.2" text-anchor="middle" font-weight="normal" fill="#231f20" stroke="#231f20" stroke-width="0.18" >0</text>
<line x1="386.16" y1="102.50" x2="386.16" y2="105.50" stroke="#231f20" stroke-width="0.95"/>
<text x="386.16" y="113.90" font-size="7.2" text-anchor="middle" font-weight="normal" fill="#231f20" stroke="#231f20" stroke-width="0.18" >6</text>
<line x1="399.02" y1="102.50" x2="399.02" y2="105.50" stroke="#231f20" stroke-width="0.95"/>
<text x="399.02" y="113.90" font-size="7.2" text-anchor="middle" font-weight="normal" fill="#231f20" stroke="#231f20" stroke-width="0.18" >12</text>
<line x1="411.87" y1="102.50" x2="411.87" y2="105.50" stroke="#231f20" stroke-width="0.95"/>
<text x="411.87" y="113.90" font-size="7.2" text-anchor="middle" font-weight="normal" fill="#231f20" stroke="#231f20" stroke-width="0.18" >18</text>
<line x1="424.73" y1="102.50" x2="424.73" y2="105.50" stroke="#231f20" stroke-width="0.95"/>
<text x="424.73" y="113.90" font-size="7.2" text-anchor="middle" font-weight="normal" fill="#231f20" stroke="#231f20" stroke-width="0.18" >24</text>
<line x1="437.59" y1="102.50" x2="437.59" y2="105.50" stroke="#231f20" stroke-width="0.95"/>
<text x="437.59" y="113.90" font-size="7.2" text-anchor="middle" font-weight="normal" fill="#231f20" stroke="#231f20" stroke-width="0.18" >30</text>
<line x1="450.45" y1="102.50" x2="450.45" y2="105.50" stroke="#231f20" stroke-width="0.95"/>
<text x="450.45" y="113.90" font-size="7.2" text-anchor="middle" font-weight="normal" fill="#231f20" stroke="#231f20" stroke-width="0.18" >36</text>
<line x1="463.31" y1="102.50" x2="463.31" y2="105.50" stroke="#231f20" stroke-width="0.95"/>
<text x="463.31" y="113.90" font-size="7.2" text-anchor="middle" font-weight="normal" fill="#231f20" stroke="#231f20" stroke-width="0.18" >42</text>
<line x1="476.16" y1="102.50" x2="476.16" y2="105.50" stroke="#231f20" stroke-width="0.95"/>
<text x="476.16" y="113.90" font-size="7.2" text-anchor="middle" font-weight="normal" fill="#231f20" stroke="#231f20" stroke-width="0.18" >48</text>
<text x="386.00" y="126.70" font-size="10.2" fill="#231f20" textLength="79.40" lengthAdjust="spacingAndGlyphs" stroke="#231f20" stroke-width="0.42">Months since first allo-HSCT</text>
<circle cx="373.30" cy="28.66" r="1.1" fill="#f8aa40"/>
<circle cx="373.30" cy="39.99" r="1.1" fill="#2ca02c"/>
<polyline points="373.30,49.43 399.02,47.54" fill="none" stroke="#f28a00" stroke-width="1.25" stroke-linejoin="round"/>
<circle cx="373.30" cy="49.43" r="1.1" fill="#f28a00"/>
<circle cx="399.02" cy="47.54" r="1.1" fill="#f28a00"/>
<polyline points="373.30,56.98 386.16,45.65" fill="none" stroke="#8455a8" stroke-width="1.25" stroke-linejoin="round"/>
<circle cx="373.30" cy="56.98" r="1.1" fill="#8455a8"/>
<circle cx="386.16" cy="45.65" r="1.1" fill="#8455a8"/>
<polyline points="373.30,56.98 386.16,60.75 399.02,60.75" fill="none" stroke="#4b1570" stroke-width="1.25" stroke-linejoin="round"/>
<circle cx="373.30" cy="56.98" r="1.1" fill="#4b1570"/>
<circle cx="386.16" cy="60.75" r="1.1" fill="#4b1570"/>
<circle cx="399.02" cy="60.75" r="1.1" fill="#4b1570"/>
<circle cx="373.30" cy="53.20" r="1.1" fill="#174a86"/>
<polyline points="373.30,49.43 386.16,30.55" fill="none" stroke="#ec8c9c" stroke-width="1.25" stroke-linejoin="round"/>
<circle cx="373.30" cy="49.43" r="1.1" fill="#ec8c9c"/>
<circle cx="386.16" cy="30.55" r="1.1" fill="#ec8c9c"/>
<polyline points="373.30,75.85 399.02,30.55 424.73,34.33 450.45,34.33 476.16,38.10" fill="none" stroke="#7ea2cc" stroke-width="1.25" stroke-linejoin="round"/>
<circle cx="373.30" cy="75.85" r="1.1" fill="#7ea2cc"/>
<circle cx="399.02" cy="30.55" r="1.1" fill="#7ea2cc"/>
<circle cx="424.73" cy="34.33" r="1.1" fill="#7ea2cc"/>
<circle cx="450.45" cy="34.33" r="1.1" fill="#7ea2cc"/>
<circle cx="476.16" cy="38.10" r="1.1" fill="#7ea2cc"/>
<polyline points="373.30,56.98 399.02,38.10 424.73,41.88 450.45,41.88" fill="none" stroke="#4a7db8" stroke-width="1.25" stroke-linejoin="round"/>
<circle cx="373.30" cy="56.98" r="1.1" fill="#4a7db8"/>
<circle cx="399.02" cy="38.10" r="1.1" fill="#4a7db8"/>
<circle cx="424.73" cy="41.88" r="1.1" fill="#4a7db8"/>
<circle cx="450.45" cy="41.88" r="1.1" fill="#4a7db8"/>
<polyline points="373.30,38.10 386.16,34.33 399.02,38.10 424.73,56.98 450.45,26.78" fill="none" stroke="#dc4664" stroke-width="1.25" stroke-linejoin="round"/>
<circle cx="373.30" cy="38.10" r="1.1" fill="#dc4664"/>
<circle cx="386.16" cy="34.33" r="1.1" fill="#dc4664"/>
<circle cx="399.02" cy="38.10" r="1.1" fill="#dc4664"/>
<circle cx="424.73" cy="56.98" r="1.1" fill="#dc4664"/>
<circle cx="450.45" cy="26.78" r="1.1" fill="#dc4664"/>
<polyline points="373.30,56.98 375.44,60.75 399.02,56.98 411.87,49.43 450.45,38.10 476.16,49.43" fill="none" stroke="#c8102e" stroke-width="1.25" stroke-linejoin="round"/>
<circle cx="373.30" cy="56.98" r="1.1" fill="#c8102e"/>
<circle cx="375.44" cy="60.75" r="1.1" fill="#c8102e"/>
<circle cx="399.02" cy="56.98" r="1.1" fill="#c8102e"/>
<circle cx="411.87" cy="49.43" r="1.1" fill="#c8102e"/>
<circle cx="450.45" cy="38.10" r="1.1" fill="#c8102e"/>
<circle cx="476.16" cy="49.43" r="1.1" fill="#c8102e"/>
<line x1="486.50" y1="25.50" x2="495.00" y2="25.50" stroke="#c8102e" stroke-width="1.0"/>
<ellipse cx="490.75" cy="25.50" rx="1.0" ry="1.2" fill="#c8102e"/>
<text x="498.00" y="27.85" font-size="6.6" text-anchor="start" font-weight="normal" fill="#231f20" stroke="#231f20" stroke-width="0.18" >8</text>
<line x1="486.50" y1="31.50" x2="495.00" y2="31.50" stroke="#dc4664" stroke-width="1.0"/>
<ellipse cx="490.75" cy="31.50" rx="1.0" ry="1.2" fill="#dc4664"/>
<text x="498.00" y="34.34" font-size="6.6" text-anchor="start" font-weight="normal" fill="#231f20" stroke="#231f20" stroke-width="0.18" >12</text>
<line x1="486.50" y1="38.50" x2="495.00" y2="38.50" stroke="#ec8c9c" stroke-width="1.0"/>
<ellipse cx="490.75" cy="38.50" rx="1.0" ry="1.2" fill="#ec8c9c"/>
<text x="498.00" y="40.83" font-size="6.6" text-anchor="start" font-weight="normal" fill="#231f20" stroke="#231f20" stroke-width="0.18" >17</text>
<path d="M508.44,34.58L510.84,36.98M508.44,36.98L510.84,34.58" stroke="#231f20" stroke-width="0.7" fill="none"/>
<line x1="486.50" y1="44.50" x2="495.00" y2="44.50" stroke="#174a86" stroke-width="1.0"/>
<ellipse cx="490.75" cy="44.50" rx="1.0" ry="1.2" fill="#174a86"/>
<text x="498.00" y="47.32" font-size="6.6" text-anchor="start" font-weight="normal" fill="#231f20" stroke="#231f20" stroke-width="0.18" >19</text>
<text x="505.54" y="46.87" font-size="5.6" text-anchor="start" font-weight="normal" fill="#231f20" stroke="#231f20" stroke-width="0.1" >*</text>
<path d="M508.44,41.07L510.84,43.47M508.44,43.47L510.84,41.07" stroke="#231f20" stroke-width="0.7" fill="none"/>
<line x1="486.50" y1="51.50" x2="495.00" y2="51.50" stroke="#4a7db8" stroke-width="1.0"/>
<ellipse cx="490.75" cy="51.50" rx="1.0" ry="1.2" fill="#4a7db8"/>
<text x="498.00" y="53.81" font-size="6.6" text-anchor="start" font-weight="normal" fill="#231f20" stroke="#231f20" stroke-width="0.18" >21</text>
<line x1="486.50" y1="57.50" x2="495.00" y2="57.50" stroke="#7ea2cc" stroke-width="1.0"/>
<ellipse cx="490.75" cy="57.50" rx="1.0" ry="1.2" fill="#7ea2cc"/>
<text x="498.00" y="60.30" font-size="6.6" text-anchor="start" font-weight="normal" fill="#231f20" stroke="#231f20" stroke-width="0.18" >23</text>
<text x="505.54" y="59.85" font-size="5.6" text-anchor="start" font-weight="normal" fill="#231f20" stroke="#231f20" stroke-width="0.1" >*</text>
<line x1="486.50" y1="64.50" x2="495.00" y2="64.50" stroke="#2ca02c" stroke-width="1.0"/>
<ellipse cx="490.75" cy="64.50" rx="1.0" ry="1.2" fill="#2ca02c"/>
<text x="498.00" y="66.79" font-size="6.6" text-anchor="start" font-weight="normal" fill="#231f20" stroke="#231f20" stroke-width="0.18" >27</text>
<path d="M508.44,60.54L510.84,62.94M508.44,62.94L510.84,60.54" stroke="#231f20" stroke-width="0.7" fill="none"/>
<line x1="486.50" y1="70.50" x2="495.00" y2="70.50" stroke="#5cbf5c" stroke-width="1.0"/>
<ellipse cx="490.75" cy="70.50" rx="1.0" ry="1.2" fill="#5cbf5c"/>
<text x="498.00" y="73.28" font-size="6.6" text-anchor="start" font-weight="normal" fill="#231f20" stroke="#231f20" stroke-width="0.18" >31</text>
<text x="505.54" y="72.83" font-size="5.6" text-anchor="start" font-weight="normal" fill="#231f20" stroke="#231f20" stroke-width="0.1" >*</text>
<path d="M508.44,67.03L510.84,69.43M508.44,69.43L510.84,67.03" stroke="#231f20" stroke-width="0.7" fill="none"/>
<line x1="486.50" y1="77.50" x2="495.00" y2="77.50" stroke="#9fd89f" stroke-width="1.0"/>
<ellipse cx="490.75" cy="77.50" rx="1.0" ry="1.2" fill="#9fd89f"/>
<text x="498.00" y="79.77" font-size="6.6" text-anchor="start" font-weight="normal" fill="#231f20" stroke="#231f20" stroke-width="0.18" >42</text>
<text x="505.54" y="79.32" font-size="5.6" text-anchor="start" font-weight="normal" fill="#231f20" stroke="#231f20" stroke-width="0.1" >*</text>
<line x1="486.50" y1="83.50" x2="495.00" y2="83.50" stroke="#4b1570" stroke-width="1.0"/>
<ellipse cx="490.75" cy="83.50" rx="1.0" ry="1.2" fill="#4b1570"/>
<text x="498.00" y="86.26" font-size="6.6" text-anchor="start" font-weight="normal" fill="#231f20" stroke="#231f20" stroke-width="0.18" >45</text>
<line x1="486.50" y1="90.50" x2="495.00" y2="90.50" stroke="#8455a8" stroke-width="1.0"/>
<ellipse cx="490.75" cy="90.50" rx="1.0" ry="1.2" fill="#8455a8"/>
<text x="498.00" y="92.75" font-size="6.6" text-anchor="start" font-weight="normal" fill="#231f20" stroke="#231f20" stroke-width="0.18" >49</text>
<line x1="486.50" y1="96.50" x2="495.00" y2="96.50" stroke="#c3a5d6" stroke-width="1.0"/>
<ellipse cx="490.75" cy="96.50" rx="1.0" ry="1.2" fill="#c3a5d6"/>
<text x="498.00" y="99.24" font-size="6.6" text-anchor="start" font-weight="normal" fill="#231f20" stroke="#231f20" stroke-width="0.18" >50</text>
<line x1="486.50" y1="103.50" x2="495.00" y2="103.50" stroke="#f28a00" stroke-width="1.0"/>
<ellipse cx="490.75" cy="103.50" rx="1.0" ry="1.2" fill="#f28a00"/>
<text x="498.00" y="105.73" font-size="6.6" text-anchor="start" font-weight="normal" fill="#231f20" stroke="#231f20" stroke-width="0.18" >52</text>
<line x1="486.50" y1="109.50" x2="495.00" y2="109.50" stroke="#f8aa40" stroke-width="1.0"/>
<ellipse cx="490.75" cy="109.50" rx="1.0" ry="1.2" fill="#f8aa40"/>
<text x="498.00" y="112.22" font-size="6.6" text-anchor="start" font-weight="normal" fill="#231f20" stroke="#231f20" stroke-width="0.18" >53</text>
<text x="505.54" y="111.77" font-size="5.6" text-anchor="start" font-weight="normal" fill="#231f20" stroke="#231f20" stroke-width="0.1" >*</text>
<line x1="486.50" y1="116.50" x2="495.00" y2="116.50" stroke="#fbcf90" stroke-width="1.0"/>
<ellipse cx="490.75" cy="116.50" rx="1.0" ry="1.2" fill="#fbcf90"/>
<text x="498.00" y="118.71" font-size="6.6" text-anchor="start" font-weight="normal" fill="#231f20" stroke="#231f20" stroke-width="0.18" >56</text>
<text x="505.54" y="118.26" font-size="5.6" text-anchor="start" font-weight="normal" fill="#231f20" stroke="#231f20" stroke-width="0.1" >*</text>
<path d="M508.44,112.46L510.84,114.86M508.44,114.86L510.84,112.46" stroke="#231f20" stroke-width="0.7" fill="none"/>
<line x1="37.50" y1="174.00" x2="37.50" y2="192.40" stroke="#231f20" stroke-width="1.0"/>
<line x1="35.60" y1="192.50" x2="39.40" y2="192.50" stroke="#231f20" stroke-width="1.0"/>
<line x1="34.30" y1="178.50" x2="37.50" y2="178.50" stroke="#231f20" stroke-width="1.0"/>
<line x1="34.30" y1="187.50" x2="37.50" y2="187.50" stroke="#231f20" stroke-width="1.0"/>
<text x="30.90" y="180.60" font-size="7.2" text-anchor="end" font-weight="normal" fill="#231f20" stroke="#231f20" stroke-width="0.18" >20</text>
<text x="30.90" y="190.20" font-size="7.2" text-anchor="end" font-weight="normal" fill="#231f20" stroke="#231f20" stroke-width="0.18" >15</text>
<line x1="37.50" y1="198.10" x2="37.50" y2="256.00" stroke="#231f20" stroke-width="1.0"/>
<line x1="35.60" y1="198.50" x2="39.40" y2="198.50" stroke="#231f20" stroke-width="1.0"/>
<line x1="34.30" y1="198.50" x2="37.50" y2="198.50" stroke="#231f20" stroke-width="1.0"/>
<line x1="34.30" y1="245.50" x2="37.50" y2="245.50" stroke="#231f20" stroke-width="1.0"/>
<line x1="35.30" y1="207.50" x2="37.50" y2="207.50" stroke="#231f20" stroke-width="1.0"/>
<line x1="35.30" y1="217.50" x2="37.50" y2="217.50" stroke="#231f20" stroke-width="1.0"/>
<line x1="35.30" y1="226.50" x2="37.50" y2="226.50" stroke="#231f20" stroke-width="1.0"/>
<line x1="35.30" y1="236.50" x2="37.50" y2="236.50" stroke="#231f20" stroke-width="1.0"/>
<text x="30.90" y="200.70" font-size="7.2" text-anchor="end" font-weight="normal" fill="#231f20" stroke="#231f20" stroke-width="0.18" >5</text>
<text x="30.90" y="248.55" font-size="7.2" text-anchor="end" font-weight="normal" fill="#231f20" stroke="#231f20" stroke-width="0.18" >0</text>
<line x1="36.50" y1="255.50" x2="142.90" y2="255.50" stroke="#231f20" stroke-width="1.0"/>
<line x1="39.10" y1="255.50" x2="39.10" y2="258.50" stroke="#231f20" stroke-width="0.95"/>
<text x="39.10" y="267.00" font-size="7.2" text-anchor="middle" font-weight="normal" fill="#231f20" stroke="#231f20" stroke-width="0.18" >0</text>
<line x1="51.65" y1="255.50" x2="51.65" y2="258.50" stroke="#231f20" stroke-width="0.95"/>
<text x="51.65" y="267.00" font-size="7.2" text-anchor="middle" font-weight="normal" fill="#231f20" stroke="#231f20" stroke-width="0.18" >6</text>
<line x1="64.20" y1="255.50" x2="64.20" y2="258.50" stroke="#231f20" stroke-width="0.95"/>
<text x="64.20" y="267.00" font-size="7.2" text-anchor="middle" font-weight="normal" fill="#231f20" stroke="#231f20" stroke-width="0.18" >12</text>
<line x1="76.75" y1="255.50" x2="76.75" y2="258.50" stroke="#231f20" stroke-width="0.95"/>
<text x="76.75" y="267.00" font-size="7.2" text-anchor="middle" font-weight="normal" fill="#231f20" stroke="#231f20" stroke-width="0.18" >18</text>
<line x1="89.30" y1="255.50" x2="89.30" y2="258.50" stroke="#231f20" stroke-width="0.95"/>
<text x="89.30" y="267.00" font-size="7.2" text-anchor="middle" font-weight="normal" fill="#231f20" stroke="#231f20" stroke-width="0.18" >24</text>
<line x1="101.85" y1="255.50" x2="101.85" y2="258.50" stroke="#231f20" stroke-width="0.95"/>
<text x="101.85" y="267.00" font-size="7.2" text-anchor="middle" font-weight="normal" fill="#231f20" stroke="#231f20" stroke-width="0.18" >30</text>
<line x1="114.40" y1="255.50" x2="114.40" y2="258.50" stroke="#231f20" stroke-width="0.95"/>
<text x="114.40" y="267.00" font-size="7.2" text-anchor="middle" font-weight="normal" fill="#231f20" stroke="#231f20" stroke-width="0.18" >36</text>
<line x1="126.95" y1="255.50" x2="126.95" y2="258.50" stroke="#231f20" stroke-width="0.95"/>
<text x="126.95" y="267.00" font-size="7.2" text-anchor="middle" font-weight="normal" fill="#231f20" stroke="#231f20" stroke-width="0.18" >42</text>
<line x1="139.50" y1="255.50" x2="139.50" y2="258.50" stroke="#231f20" stroke-width="0.95"/>
<text x="139.50" y="267.00" font-size="7.2" text-anchor="middle" font-weight="normal" fill="#231f20" stroke="#231f20" stroke-width="0.18" >48</text>
<text x="50.60" y="277.50" font-size="10.2" fill="#231f20" textLength="79.40" lengthAdjust="spacingAndGlyphs" stroke="#231f20" stroke-width="0.42">Months since first allo-HSCT</text>
<polyline points="39.10,246.62 45.38,246.62 57.93,246.62 76.75,246.62 89.30,246.62 114.40,246.62" fill="none" stroke="#174a86" stroke-width="1.3" stroke-linejoin="round"/>
<circle cx="39.10" cy="246.62" r="1.0" fill="#174a86"/>
<circle cx="45.38" cy="246.62" r="1.0" fill="#174a86"/>
<circle cx="57.93" cy="246.62" r="1.0" fill="#174a86"/>
<circle cx="76.75" cy="246.62" r="1.0" fill="#174a86"/>
<circle cx="89.30" cy="246.62" r="1.0" fill="#174a86"/>
<circle cx="114.40" cy="246.62" r="1.0" fill="#174a86"/>
<polyline points="39.10,245.95 41.19,245.95 57.93,245.95" fill="none" stroke="#7ea2cc" stroke-width="1.25" stroke-linejoin="round"/>
<circle cx="39.10" cy="245.95" r="1.1" fill="#7ea2cc"/>
<circle cx="41.19" cy="245.95" r="1.1" fill="#7ea2cc"/>
<circle cx="57.93" cy="245.95" r="1.1" fill="#7ea2cc"/>
<polyline points="39.10,245.95 45.38,245.95 57.93,245.95 64.20,236.38 76.75,245.95 89.30,245.95 114.40,236.38" fill="none" stroke="#5cbf5c" stroke-width="1.25" stroke-linejoin="round"/>
<circle cx="39.10" cy="245.95" r="1.1" fill="#5cbf5c"/>
<circle cx="45.38" cy="245.95" r="1.1" fill="#5cbf5c"/>
<circle cx="57.93" cy="245.95" r="1.1" fill="#5cbf5c"/>
<circle cx="64.20" cy="236.38" r="1.1" fill="#5cbf5c"/>
<circle cx="76.75" cy="245.95" r="1.1" fill="#5cbf5c"/>
<circle cx="89.30" cy="245.95" r="1.1" fill="#5cbf5c"/>
<circle cx="114.40" cy="236.38" r="1.1" fill="#5cbf5c"/>
<line x1="114.40" y1="245.95" x2="139.50" y2="245.95" stroke="#e8806e" stroke-width="1.3"/>
<polyline points="39.10,245.95 51.65,245.95 64.20,245.95 89.30,245.95 114.40,245.95" fill="none" stroke="#c8102e" stroke-width="1.5" stroke-linejoin="round"/>
<circle cx="39.10" cy="245.95" r="1.3" fill="#c8102e"/>
<circle cx="51.65" cy="245.95" r="1.3" fill="#c8102e"/>
<circle cx="64.20" cy="245.95" r="1.3" fill="#c8102e"/>
<circle cx="89.30" cy="245.95" r="1.3" fill="#c8102e"/>
<circle cx="114.40" cy="245.95" r="1.3" fill="#c8102e"/>
<circle cx="139.50" cy="245.95" r="1.25" fill="#c8102e"/>
<line x1="149.40" y1="178.50" x2="157.90" y2="178.50" stroke="#c8102e" stroke-width="1.0"/>
<ellipse cx="153.65" cy="178.50" rx="1.0" ry="1.2" fill="#c8102e"/>
<text x="161.60" y="180.35" font-size="6.6" text-anchor="start" font-weight="normal" fill="#231f20" stroke="#231f20" stroke-width="0.18" >1</text>
<line x1="149.40" y1="184.50" x2="157.90" y2="184.50" stroke="#dc4664" stroke-width="1.0"/>
<ellipse cx="153.65" cy="184.50" rx="1.0" ry="1.2" fill="#dc4664"/>
<text x="161.60" y="186.80" font-size="6.6" text-anchor="start" font-weight="normal" fill="#231f20" stroke="#231f20" stroke-width="0.18" >2</text>
<line x1="149.40" y1="190.50" x2="157.90" y2="190.50" stroke="#ec8c9c" stroke-width="1.0"/>
<ellipse cx="153.65" cy="190.50" rx="1.0" ry="1.2" fill="#ec8c9c"/>
<text x="161.60" y="193.25" font-size="6.6" text-anchor="start" font-weight="normal" fill="#231f20" stroke="#231f20" stroke-width="0.18" >5</text>
<line x1="149.40" y1="197.50" x2="157.90" y2="197.50" stroke="#174a86" stroke-width="1.0"/>
<ellipse cx="153.65" cy="197.50" rx="1.0" ry="1.2" fill="#174a86"/>
<text x="161.60" y="199.70" font-size="6.6" text-anchor="start" font-weight="normal" fill="#231f20" stroke="#231f20" stroke-width="0.18" >7</text>
<line x1="149.40" y1="203.50" x2="157.90" y2="203.50" stroke="#4a7db8" stroke-width="1.0"/>
<ellipse cx="153.65" cy="203.50" rx="1.0" ry="1.2" fill="#4a7db8"/>
<text x="161.60" y="206.15" font-size="6.6" text-anchor="start" font-weight="normal" fill="#231f20" stroke="#231f20" stroke-width="0.18" >11</text>
<line x1="149.40" y1="210.50" x2="157.90" y2="210.50" stroke="#7ea2cc" stroke-width="1.0"/>
<ellipse cx="153.65" cy="210.50" rx="1.0" ry="1.2" fill="#7ea2cc"/>
<text x="161.60" y="212.60" font-size="6.6" text-anchor="start" font-weight="normal" fill="#231f20" stroke="#231f20" stroke-width="0.18" >13</text>
<line x1="149.40" y1="216.50" x2="157.90" y2="216.50" stroke="#2ca02c" stroke-width="1.0"/>
<ellipse cx="153.65" cy="216.50" rx="1.0" ry="1.2" fill="#2ca02c"/>
<text x="161.60" y="219.05" font-size="6.6" text-anchor="start" font-weight="normal" fill="#231f20" stroke="#231f20" stroke-width="0.18" >15</text>
<line x1="149.40" y1="223.50" x2="157.90" y2="223.50" stroke="#5cbf5c" stroke-width="1.0"/>
<ellipse cx="153.65" cy="223.50" rx="1.0" ry="1.2" fill="#5cbf5c"/>
<text x="161.60" y="225.50" font-size="6.6" text-anchor="start" font-weight="normal" fill="#231f20" stroke="#231f20" stroke-width="0.18" >16</text>
<line x1="149.40" y1="229.50" x2="157.90" y2="229.50" stroke="#9fd89f" stroke-width="1.0"/>
<ellipse cx="153.65" cy="229.50" rx="1.0" ry="1.2" fill="#9fd89f"/>
<text x="161.60" y="231.95" font-size="6.6" text-anchor="start" font-weight="normal" fill="#231f20" stroke="#231f20" stroke-width="0.18" >22</text>
<path d="M169.94,225.70L172.34,228.10M169.94,228.10L172.34,225.70" stroke="#231f20" stroke-width="0.7" fill="none"/>
<line x1="149.40" y1="236.50" x2="157.90" y2="236.50" stroke="#4b1570" stroke-width="1.0"/>
<ellipse cx="153.65" cy="236.50" rx="1.0" ry="1.2" fill="#4b1570"/>
<text x="161.60" y="238.40" font-size="6.6" text-anchor="start" font-weight="normal" fill="#231f20" stroke="#231f20" stroke-width="0.18" >24</text>
<line x1="149.40" y1="242.50" x2="157.90" y2="242.50" stroke="#8455a8" stroke-width="1.0"/>
<ellipse cx="153.65" cy="242.50" rx="1.0" ry="1.2" fill="#8455a8"/>
<text x="161.60" y="244.85" font-size="6.6" text-anchor="start" font-weight="normal" fill="#231f20" stroke="#231f20" stroke-width="0.18" >26</text>
<line x1="149.40" y1="248.50" x2="157.90" y2="248.50" stroke="#c3a5d6" stroke-width="1.0"/>
<ellipse cx="153.65" cy="248.50" rx="1.0" ry="1.2" fill="#c3a5d6"/>
<text x="161.60" y="251.30" font-size="6.6" text-anchor="start" font-weight="normal" fill="#231f20" stroke="#231f20" stroke-width="0.18" >29</text>
<line x1="174.30" y1="178.50" x2="182.80" y2="178.50" stroke="#f28a00" stroke-width="1.0"/>
<ellipse cx="178.55" cy="178.50" rx="1.0" ry="1.2" fill="#f28a00"/>
<text x="185.90" y="180.35" font-size="6.6" text-anchor="start" font-weight="normal" fill="#231f20" stroke="#231f20" stroke-width="0.18" >30</text>
<line x1="174.30" y1="184.50" x2="182.80" y2="184.50" stroke="#f8aa40" stroke-width="1.0"/>
<ellipse cx="178.55" cy="184.50" rx="1.0" ry="1.2" fill="#f8aa40"/>
<text x="185.90" y="186.80" font-size="6.6" text-anchor="start" font-weight="normal" fill="#231f20" stroke="#231f20" stroke-width="0.18" >33</text>
<line x1="174.30" y1="190.50" x2="182.80" y2="190.50" stroke="#fbcf90" stroke-width="1.0"/>
<ellipse cx="178.55" cy="190.50" rx="1.0" ry="1.2" fill="#fbcf90"/>
<text x="185.90" y="193.25" font-size="6.6" text-anchor="start" font-weight="normal" fill="#231f20" stroke="#231f20" stroke-width="0.18" >35</text>
<line x1="174.30" y1="197.50" x2="182.80" y2="197.50" stroke="#24705a" stroke-width="1.0"/>
<ellipse cx="178.55" cy="197.50" rx="1.0" ry="1.2" fill="#24705a"/>
<text x="185.90" y="199.70" font-size="6.6" text-anchor="start" font-weight="normal" fill="#231f20" stroke="#231f20" stroke-width="0.18" >36</text>
<line x1="174.30" y1="203.50" x2="182.80" y2="203.50" stroke="#3b9479" stroke-width="1.0"/>
<ellipse cx="178.55" cy="203.50" rx="1.0" ry="1.2" fill="#3b9479"/>
<text x="185.90" y="206.15" font-size="6.6" text-anchor="start" font-weight="normal" fill="#231f20" stroke="#231f20" stroke-width="0.18" >38</text>
<line x1="174.30" y1="210.50" x2="182.80" y2="210.50" stroke="#86c2b0" stroke-width="1.0"/>
<ellipse cx="178.55" cy="210.50" rx="1.0" ry="1.2" fill="#86c2b0"/>
<text x="185.90" y="212.60" font-size="6.6" text-anchor="start" font-weight="normal" fill="#231f20" stroke="#231f20" stroke-width="0.18" >39</text>
<line x1="174.30" y1="216.50" x2="182.80" y2="216.50" stroke="#7674c6" stroke-width="1.0"/>
<ellipse cx="178.55" cy="216.50" rx="1.0" ry="1.2" fill="#7674c6"/>
<text x="185.90" y="219.05" font-size="6.6" text-anchor="start" font-weight="normal" fill="#231f20" stroke="#231f20" stroke-width="0.18" >41</text>
<line x1="174.30" y1="223.50" x2="182.80" y2="223.50" stroke="#a09ed8" stroke-width="1.0"/>
<ellipse cx="178.55" cy="223.50" rx="1.0" ry="1.2" fill="#a09ed8"/>
<text x="185.90" y="225.50" font-size="6.6" text-anchor="start" font-weight="normal" fill="#231f20" stroke="#231f20" stroke-width="0.18" >48</text>
<line x1="174.30" y1="229.50" x2="182.80" y2="229.50" stroke="#c9c9ef" stroke-width="1.0"/>
<ellipse cx="178.55" cy="229.50" rx="1.0" ry="1.2" fill="#c9c9ef"/>
<text x="185.90" y="231.95" font-size="6.6" text-anchor="start" font-weight="normal" fill="#231f20" stroke="#231f20" stroke-width="0.18" >54</text>
<line x1="174.30" y1="236.50" x2="182.80" y2="236.50" stroke="#1f2f46" stroke-width="1.0"/>
<ellipse cx="178.55" cy="236.50" rx="1.0" ry="1.2" fill="#1f2f46"/>
<text x="185.90" y="238.40" font-size="6.6" text-anchor="start" font-weight="normal" fill="#231f20" stroke="#231f20" stroke-width="0.18" >55</text>
<path d="M194.24,232.15L196.64,234.55M194.24,234.55L196.64,232.15" stroke="#231f20" stroke-width="0.7" fill="none"/>
<line x1="174.30" y1="242.50" x2="182.80" y2="242.50" stroke="#5f6f88" stroke-width="1.0"/>
<ellipse cx="178.55" cy="242.50" rx="1.0" ry="1.2" fill="#5f6f88"/>
<text x="185.90" y="244.85" font-size="6.6" text-anchor="start" font-weight="normal" fill="#231f20" stroke="#231f20" stroke-width="0.18" >58</text>
<line x1="174.30" y1="248.50" x2="182.80" y2="248.50" stroke="#a2b0c2" stroke-width="1.0"/>
<ellipse cx="178.55" cy="248.50" rx="1.0" ry="1.2" fill="#a2b0c2"/>
<text x="185.90" y="251.30" font-size="6.6" text-anchor="start" font-weight="normal" fill="#231f20" stroke="#231f20" stroke-width="0.18" >59</text>
<line x1="217.10" y1="174.10" x2="217.10" y2="192.10" stroke="#231f20" stroke-width="1.0"/>
<line x1="215.20" y1="192.50" x2="219.00" y2="192.50" stroke="#231f20" stroke-width="1.0"/>
<line x1="213.90" y1="177.50" x2="217.10" y2="177.50" stroke="#231f20" stroke-width="1.0"/>
<line x1="213.90" y1="187.50" x2="217.10" y2="187.50" stroke="#231f20" stroke-width="1.0"/>
<text x="211.00" y="180.20" font-size="7.2" text-anchor="end" font-weight="normal" fill="#231f20" stroke="#231f20" stroke-width="0.18" >20</text>
<text x="211.00" y="190.30" font-size="7.2" text-anchor="end" font-weight="normal" fill="#231f20" stroke="#231f20" stroke-width="0.18" >15</text>
<line x1="217.10" y1="198.40" x2="217.10" y2="256.00" stroke="#231f20" stroke-width="1.0"/>
<line x1="215.20" y1="198.50" x2="219.00" y2="198.50" stroke="#231f20" stroke-width="1.0"/>
<line x1="213.90" y1="198.50" x2="217.10" y2="198.50" stroke="#231f20" stroke-width="1.0"/>
<line x1="213.90" y1="224.50" x2="217.10" y2="224.50" stroke="#231f20" stroke-width="1.0"/>
<line x1="213.90" y1="250.50" x2="217.10" y2="250.50" stroke="#231f20" stroke-width="1.0"/>
<text x="211.00" y="201.00" font-size="7.2" text-anchor="end" font-weight="normal" fill="#231f20" stroke="#231f20" stroke-width="0.18" >10</text>
<text x="211.00" y="227.00" font-size="7.2" text-anchor="end" font-weight="normal" fill="#231f20" stroke="#231f20" stroke-width="0.18" >5</text>
<text x="211.00" y="252.90" font-size="7.2" text-anchor="end" font-weight="normal" fill="#231f20" stroke="#231f20" stroke-width="0.18" >0</text>
<line x1="216.60" y1="255.50" x2="322.50" y2="255.50" stroke="#231f20" stroke-width="1.0"/>
<line x1="219.20" y1="255.50" x2="219.20" y2="258.50" stroke="#231f20" stroke-width="0.95"/>
<text x="219.20" y="267.00" font-size="7.2" text-anchor="middle" font-weight="normal" fill="#231f20" stroke="#231f20" stroke-width="0.18" >0</text>
<line x1="231.72" y1="255.50" x2="231.72" y2="258.50" stroke="#231f20" stroke-width="0.95"/>
<text x="231.72" y="267.00" font-size="7.2" text-anchor="middle" font-weight="normal" fill="#231f20" stroke="#231f20" stroke-width="0.18" >6</text>
<line x1="244.25" y1="255.50" x2="244.25" y2="258.50" stroke="#231f20" stroke-width="0.95"/>
<text x="244.25" y="267.00" font-size="7.2" text-anchor="middle" font-weight="normal" fill="#231f20" stroke="#231f20" stroke-width="0.18" >12</text>
<line x1="256.77" y1="255.50" x2="256.77" y2="258.50" stroke="#231f20" stroke-width="0.95"/>
<text x="256.77" y="267.00" font-size="7.2" text-anchor="middle" font-weight="normal" fill="#231f20" stroke="#231f20" stroke-width="0.18" >18</text>
<line x1="269.30" y1="255.50" x2="269.30" y2="258.50" stroke="#231f20" stroke-width="0.95"/>
<text x="269.30" y="267.00" font-size="7.2" text-anchor="middle" font-weight="normal" fill="#231f20" stroke="#231f20" stroke-width="0.18" >24</text>
<line x1="281.82" y1="255.50" x2="281.82" y2="258.50" stroke="#231f20" stroke-width="0.95"/>
<text x="281.82" y="267.00" font-size="7.2" text-anchor="middle" font-weight="normal" fill="#231f20" stroke="#231f20" stroke-width="0.18" >30</text>
<line x1="294.35" y1="255.50" x2="294.35" y2="258.50" stroke="#231f20" stroke-width="0.95"/>
<text x="294.35" y="267.00" font-size="7.2" text-anchor="middle" font-weight="normal" fill="#231f20" stroke="#231f20" stroke-width="0.18" >36</text>
<line x1="306.88" y1="255.50" x2="306.88" y2="258.50" stroke="#231f20" stroke-width="0.95"/>
<text x="306.88" y="267.00" font-size="7.2" text-anchor="middle" font-weight="normal" fill="#231f20" stroke="#231f20" stroke-width="0.18" >42</text>
<line x1="319.40" y1="255.50" x2="319.40" y2="258.50" stroke="#231f20" stroke-width="0.95"/>
<text x="319.40" y="267.00" font-size="7.2" text-anchor="middle" font-weight="normal" fill="#231f20" stroke="#231f20" stroke-width="0.18" >48</text>
<text x="230.60" y="277.50" font-size="10.2" fill="#231f20" textLength="79.40" lengthAdjust="spacingAndGlyphs" stroke="#231f20" stroke-width="0.42">Months since first allo-HSCT</text>
<polyline points="219.20,250.30 225.46,250.30 231.72,250.30 244.25,250.30 256.77,250.30 269.30,250.30 294.35,245.10 319.40,245.10" fill="none" stroke="#ec8c9c" stroke-width="1.25" stroke-linejoin="round"/>
<circle cx="219.20" cy="250.30" r="1.1" fill="#ec8c9c"/>
<circle cx="225.46" cy="250.30" r="1.1" fill="#ec8c9c"/>
<circle cx="231.72" cy="250.30" r="1.1" fill="#ec8c9c"/>
<circle cx="244.25" cy="250.30" r="1.1" fill="#ec8c9c"/>
<circle cx="256.77" cy="250.30" r="1.1" fill="#ec8c9c"/>
<circle cx="269.30" cy="250.30" r="1.1" fill="#ec8c9c"/>
<circle cx="294.35" cy="245.10" r="1.1" fill="#ec8c9c"/>
<circle cx="319.40" cy="245.10" r="1.1" fill="#ec8c9c"/>
<polyline points="244.25,250.30 256.77,246.66 269.30,245.10" fill="none" stroke="#9fd89f" stroke-width="1.25" stroke-linejoin="round"/>
<circle cx="244.25" cy="250.30" r="1.1" fill="#9fd89f"/>
<circle cx="256.77" cy="246.66" r="1.1" fill="#9fd89f"/>
<circle cx="269.30" cy="245.10" r="1.1" fill="#9fd89f"/>
<polyline points="244.25,250.30 256.77,245.10 269.30,245.10" fill="none" stroke="#5cbf5c" stroke-width="1.25" stroke-linejoin="round"/>
<circle cx="244.25" cy="250.30" r="1.1" fill="#5cbf5c"/>
<circle cx="256.77" cy="245.10" r="1.1" fill="#5cbf5c"/>
<circle cx="269.30" cy="245.10" r="1.1" fill="#5cbf5c"/>
<polyline points="244.25,250.30 269.30,245.10 294.35,239.90 319.40,250.30" fill="none" stroke="#2ca02c" stroke-width="1.25" stroke-linejoin="round"/>
<circle cx="244.25" cy="250.30" r="1.1" fill="#2ca02c"/>
<circle cx="269.30" cy="245.10" r="1.1" fill="#2ca02c"/>
<circle cx="294.35" cy="239.90" r="1.1" fill="#2ca02c"/>
<circle cx="319.40" cy="250.30" r="1.1" fill="#2ca02c"/>
<polyline points="269.30,250.30 294.35,250.30" fill="none" stroke="#174a86" stroke-width="1.25" stroke-linejoin="round"/>
<circle cx="269.30" cy="250.30" r="1.1" fill="#174a86"/>
<circle cx="294.35" cy="250.30" r="1.1" fill="#174a86"/>
<polyline points="237.99,250.30 244.25,245.10" fill="none" stroke="#4a7db8" stroke-width="1.25" stroke-linejoin="round"/>
<circle cx="237.99" cy="250.30" r="1.1" fill="#4a7db8"/>
<circle cx="244.25" cy="245.10" r="1.1" fill="#4a7db8"/>
<polyline points="219.20,245.10 220.87,245.10 222.54,245.10 231.72,245.10 237.99,239.90 243.41,247.18" fill="none" stroke="#f28a00" stroke-width="1.25" stroke-linejoin="round"/>
<circle cx="219.20" cy="245.10" r="1.1" fill="#f28a00"/>
<circle cx="220.87" cy="245.10" r="1.1" fill="#f28a00"/>
<circle cx="222.54" cy="245.10" r="1.1" fill="#f28a00"/>
<circle cx="231.72" cy="245.10" r="1.1" fill="#f28a00"/>
<circle cx="237.99" cy="239.90" r="1.1" fill="#f28a00"/>
<circle cx="243.41" cy="247.18" r="1.1" fill="#f28a00"/>
<polyline points="225.46,245.10 231.72,245.10 237.99,245.10" fill="none" stroke="#8455a8" stroke-width="1.25" stroke-linejoin="round"/>
<circle cx="225.46" cy="245.10" r="1.1" fill="#8455a8"/>
<circle cx="231.72" cy="245.10" r="1.1" fill="#8455a8"/>
<circle cx="237.99" cy="245.10" r="1.1" fill="#8455a8"/>
<polyline points="219.20,250.30 225.46,245.10 231.72,250.30" fill="none" stroke="#c8102e" stroke-width="1.25" stroke-linejoin="round"/>
<circle cx="219.20" cy="250.30" r="1.1" fill="#c8102e"/>
<circle cx="225.46" cy="245.10" r="1.1" fill="#c8102e"/>
<circle cx="231.72" cy="250.30" r="1.1" fill="#c8102e"/>
<polyline points="244.25,250.30 256.77,224.30 269.30,245.10" fill="none" stroke="#4b1570" stroke-width="1.25" stroke-linejoin="round"/>
<circle cx="244.25" cy="250.30" r="1.1" fill="#4b1570"/>
<circle cx="256.77" cy="224.30" r="1.1" fill="#4b1570"/>
<circle cx="269.30" cy="245.10" r="1.1" fill="#4b1570"/>
<line x1="329.10" y1="177.50" x2="337.60" y2="177.50" stroke="#c8102e" stroke-width="1.0"/>
<ellipse cx="333.35" cy="177.50" rx="1.0" ry="1.2" fill="#c8102e"/>
<text x="340.10" y="180.25" font-size="6.6" text-anchor="start" font-weight="normal" fill="#231f20" stroke="#231f20" stroke-width="0.18" >3</text>
<line x1="329.10" y1="184.50" x2="337.60" y2="184.50" stroke="#dc4664" stroke-width="1.0"/>
<ellipse cx="333.35" cy="184.50" rx="1.0" ry="1.2" fill="#dc4664"/>
<text x="340.10" y="186.70" font-size="6.6" text-anchor="start" font-weight="normal" fill="#231f20" stroke="#231f20" stroke-width="0.18" >4</text>
<line x1="329.10" y1="190.50" x2="337.60" y2="190.50" stroke="#ec8c9c" stroke-width="1.0"/>
<ellipse cx="333.35" cy="190.50" rx="1.0" ry="1.2" fill="#ec8c9c"/>
<text x="340.10" y="193.15" font-size="6.6" text-anchor="start" font-weight="normal" fill="#231f20" stroke="#231f20" stroke-width="0.18" >6</text>
<line x1="329.10" y1="197.50" x2="337.60" y2="197.50" stroke="#174a86" stroke-width="1.0"/>
<ellipse cx="333.35" cy="197.50" rx="1.0" ry="1.2" fill="#174a86"/>
<text x="340.10" y="199.60" font-size="6.6" text-anchor="start" font-weight="normal" fill="#231f20" stroke="#231f20" stroke-width="0.18" >20</text>
<line x1="329.10" y1="203.50" x2="337.60" y2="203.50" stroke="#4a7db8" stroke-width="1.0"/>
<ellipse cx="333.35" cy="203.50" rx="1.0" ry="1.2" fill="#4a7db8"/>
<text x="340.10" y="206.05" font-size="6.6" text-anchor="start" font-weight="normal" fill="#231f20" stroke="#231f20" stroke-width="0.18" >25</text>
<line x1="329.10" y1="210.50" x2="337.60" y2="210.50" stroke="#7ea2cc" stroke-width="1.0"/>
<ellipse cx="333.35" cy="210.50" rx="1.0" ry="1.2" fill="#7ea2cc"/>
<text x="340.10" y="212.50" font-size="6.6" text-anchor="start" font-weight="normal" fill="#231f20" stroke="#231f20" stroke-width="0.18" >32</text>
<path d="M348.44,206.25L350.84,208.65M348.44,208.65L350.84,206.25" stroke="#231f20" stroke-width="0.7" fill="none"/>
<line x1="329.10" y1="216.50" x2="337.60" y2="216.50" stroke="#2ca02c" stroke-width="1.0"/>
<ellipse cx="333.35" cy="216.50" rx="1.0" ry="1.2" fill="#2ca02c"/>
<text x="340.10" y="218.95" font-size="6.6" text-anchor="start" font-weight="normal" fill="#231f20" stroke="#231f20" stroke-width="0.18" >34</text>
<line x1="329.10" y1="223.50" x2="337.60" y2="223.50" stroke="#5cbf5c" stroke-width="1.0"/>
<ellipse cx="333.35" cy="223.50" rx="1.0" ry="1.2" fill="#5cbf5c"/>
<text x="340.10" y="225.40" font-size="6.6" text-anchor="start" font-weight="normal" fill="#231f20" stroke="#231f20" stroke-width="0.18" >40</text>
<line x1="329.10" y1="229.50" x2="337.60" y2="229.50" stroke="#9fd89f" stroke-width="1.0"/>
<ellipse cx="333.35" cy="229.50" rx="1.0" ry="1.2" fill="#9fd89f"/>
<text x="340.10" y="231.85" font-size="6.6" text-anchor="start" font-weight="normal" fill="#231f20" stroke="#231f20" stroke-width="0.18" >43</text>
<line x1="329.10" y1="235.50" x2="337.60" y2="235.50" stroke="#4b1570" stroke-width="1.0"/>
<ellipse cx="333.35" cy="235.50" rx="1.0" ry="1.2" fill="#4b1570"/>
<text x="340.10" y="238.30" font-size="6.6" text-anchor="start" font-weight="normal" fill="#231f20" stroke="#231f20" stroke-width="0.18" >44</text>
<path d="M348.44,232.05L350.84,234.45M348.44,234.45L350.84,232.05" stroke="#231f20" stroke-width="0.7" fill="none"/>
<line x1="329.10" y1="242.50" x2="337.60" y2="242.50" stroke="#8455a8" stroke-width="1.0"/>
<ellipse cx="333.35" cy="242.50" rx="1.0" ry="1.2" fill="#8455a8"/>
<text x="340.10" y="244.75" font-size="6.6" text-anchor="start" font-weight="normal" fill="#231f20" stroke="#231f20" stroke-width="0.18" >46</text>
<line x1="329.10" y1="248.50" x2="337.60" y2="248.50" stroke="#c3a5d6" stroke-width="1.0"/>
<ellipse cx="333.35" cy="248.50" rx="1.0" ry="1.2" fill="#c3a5d6"/>
<text x="340.10" y="251.20" font-size="6.6" text-anchor="start" font-weight="normal" fill="#231f20" stroke="#231f20" stroke-width="0.18" >47</text>
<line x1="329.10" y1="255.50" x2="337.60" y2="255.50" stroke="#f28a00" stroke-width="1.0"/>
<ellipse cx="333.35" cy="255.50" rx="1.0" ry="1.2" fill="#f28a00"/>
<text x="340.10" y="257.65" font-size="6.6" text-anchor="start" font-weight="normal" fill="#231f20" stroke="#231f20" stroke-width="0.18" >51</text>
<line x1="371.30" y1="174.50" x2="371.30" y2="256.00" stroke="#231f20" stroke-width="1.0"/>
<line x1="368.10" y1="177.50" x2="371.30" y2="177.50" stroke="#231f20" stroke-width="1.0"/>
<line x1="368.10" y1="196.50" x2="371.30" y2="196.50" stroke="#231f20" stroke-width="1.0"/>
<line x1="368.10" y1="214.50" x2="371.30" y2="214.50" stroke="#231f20" stroke-width="1.0"/>
<line x1="368.10" y1="233.50" x2="371.30" y2="233.50" stroke="#231f20" stroke-width="1.0"/>
<line x1="368.10" y1="251.50" x2="371.30" y2="251.50" stroke="#231f20" stroke-width="1.0"/>
<text x="364.70" y="180.50" font-size="7.2" text-anchor="end" font-weight="normal" fill="#231f20" stroke="#231f20" stroke-width="0.18" >20</text>
<text x="364.70" y="198.80" font-size="7.2" text-anchor="end" font-weight="normal" fill="#231f20" stroke="#231f20" stroke-width="0.18" >15</text>
<text x="364.70" y="217.50" font-size="7.2" text-anchor="end" font-weight="normal" fill="#231f20" stroke="#231f20" stroke-width="0.18" >10</text>
<text x="364.70" y="236.10" font-size="7.2" text-anchor="end" font-weight="normal" fill="#231f20" stroke="#231f20" stroke-width="0.18" >5</text>
<text x="364.70" y="254.30" font-size="7.2" text-anchor="end" font-weight="normal" fill="#231f20" stroke="#231f20" stroke-width="0.18" >0</text>
<line x1="370.70" y1="255.50" x2="479.60" y2="255.50" stroke="#231f20" stroke-width="1.0"/>
<line x1="373.30" y1="255.50" x2="373.30" y2="258.50" stroke="#231f20" stroke-width="0.95"/>
<text x="373.30" y="267.00" font-size="7.2" text-anchor="middle" font-weight="normal" fill="#231f20" stroke="#231f20" stroke-width="0.18" >0</text>
<line x1="386.16" y1="255.50" x2="386.16" y2="258.50" stroke="#231f20" stroke-width="0.95"/>
<text x="386.16" y="267.00" font-size="7.2" text-anchor="middle" font-weight="normal" fill="#231f20" stroke="#231f20" stroke-width="0.18" >6</text>
<line x1="399.02" y1="255.50" x2="399.02" y2="258.50" stroke="#231f20" stroke-width="0.95"/>
<text x="399.02" y="267.00" font-size="7.2" text-anchor="middle" font-weight="normal" fill="#231f20" stroke="#231f20" stroke-width="0.18" >12</text>
<line x1="411.87" y1="255.50" x2="411.87" y2="258.50" stroke="#231f20" stroke-width="0.95"/>
<text x="411.87" y="267.00" font-size="7.2" text-anchor="middle" font-weight="normal" fill="#231f20" stroke="#231f20" stroke-width="0.18" >18</text>
<line x1="424.73" y1="255.50" x2="424.73" y2="258.50" stroke="#231f20" stroke-width="0.95"/>
<text x="424.73" y="267.00" font-size="7.2" text-anchor="middle" font-weight="normal" fill="#231f20" stroke="#231f20" stroke-width="0.18" >24</text>
<line x1="437.59" y1="255.50" x2="437.59" y2="258.50" stroke="#231f20" stroke-width="0.95"/>
<text x="437.59" y="267.00" font-size="7.2" text-anchor="middle" font-weight="normal" fill="#231f20" stroke="#231f20" stroke-width="0.18" >30</text>
<line x1="450.45" y1="255.50" x2="450.45" y2="258.50" stroke="#231f20" stroke-width="0.95"/>
<text x="450.45" y="267.00" font-size="7.2" text-anchor="middle" font-weight="normal" fill="#231f20" stroke="#231f20" stroke-width="0.18" >36</text>
<line x1="463.31" y1="255.50" x2="463.31" y2="258.50" stroke="#231f20" stroke-width="0.95"/>
<text x="463.31" y="267.00" font-size="7.2" text-anchor="middle" font-weight="normal" fill="#231f20" stroke="#231f20" stroke-width="0.18" >42</text>
<line x1="476.16" y1="255.50" x2="476.16" y2="258.50" stroke="#231f20" stroke-width="0.95"/>
<text x="476.16" y="267.00" font-size="7.2" text-anchor="middle" font-weight="normal" fill="#231f20" stroke="#231f20" stroke-width="0.18" >48</text>
<text x="386.00" y="277.50" font-size="10.2" fill="#231f20" textLength="79.40" lengthAdjust="spacingAndGlyphs" stroke="#231f20" stroke-width="0.42">Months since first allo-HSCT</text>
<polyline points="373.30,253.54 375.44,236.98 379.73,225.94" fill="none" stroke="#f8aa40" stroke-width="1.25" stroke-linejoin="round"/>
<circle cx="373.30" cy="253.54" r="1.1" fill="#f8aa40"/>
<circle cx="375.44" cy="236.98" r="1.1" fill="#f8aa40"/>
<circle cx="379.73" cy="225.94" r="1.1" fill="#f8aa40"/>
<polyline points="373.30,240.66 375.44,192.82" fill="none" stroke="#9fd89f" stroke-width="1.25" stroke-linejoin="round"/>
<circle cx="373.30" cy="240.66" r="1.1" fill="#9fd89f"/>
<circle cx="375.44" cy="192.82" r="1.1" fill="#9fd89f"/>
<polyline points="379.73,244.34 386.16,248.02 392.59,248.02 399.02,244.34" fill="none" stroke="#8455a8" stroke-width="1.25" stroke-linejoin="round"/>
<circle cx="379.73" cy="244.34" r="1.1" fill="#8455a8"/>
<circle cx="386.16" cy="248.02" r="1.1" fill="#8455a8"/>
<circle cx="392.59" cy="248.02" r="1.1" fill="#8455a8"/>
<circle cx="399.02" cy="244.34" r="1.1" fill="#8455a8"/>
<polyline points="375.44,248.02 379.73,246.18" fill="none" stroke="#4b1570" stroke-width="1.25" stroke-linejoin="round"/>
<circle cx="375.44" cy="248.02" r="1.1" fill="#4b1570"/>
<circle cx="379.73" cy="246.18" r="1.1" fill="#4b1570"/>
<polyline points="373.30,251.70 375.44,251.70 379.73,251.70 386.16,251.70" fill="none" stroke="#ec8c9c" stroke-width="1.25" stroke-linejoin="round"/>
<circle cx="373.30" cy="251.70" r="1.1" fill="#ec8c9c"/>
<circle cx="375.44" cy="251.70" r="1.1" fill="#ec8c9c"/>
<circle cx="379.73" cy="251.70" r="1.1" fill="#ec8c9c"/>
<circle cx="386.16" cy="251.70" r="1.1" fill="#ec8c9c"/>
<polyline points="373.30,248.02 375.44,240.66 379.73,248.02 386.16,248.02 399.02,248.02 424.73,248.02 450.45,248.02" fill="none" stroke="#dc4664" stroke-width="1.25" stroke-linejoin="round"/>
<circle cx="373.30" cy="248.02" r="1.1" fill="#dc4664"/>
<circle cx="375.44" cy="240.66" r="1.1" fill="#dc4664"/>
<circle cx="379.73" cy="248.02" r="1.1" fill="#dc4664"/>
<circle cx="386.16" cy="248.02" r="1.1" fill="#dc4664"/>
<circle cx="399.02" cy="248.02" r="1.1" fill="#dc4664"/>
<circle cx="424.73" cy="248.02" r="1.1" fill="#dc4664"/>
<circle cx="450.45" cy="248.02" r="1.1" fill="#dc4664"/>
<polyline points="373.30,240.66 379.73,236.98 392.59,236.98 399.02,248.02" fill="none" stroke="#f28a00" stroke-width="1.25" stroke-linejoin="round"/>
<circle cx="373.30" cy="240.66" r="1.1" fill="#f28a00"/>
<circle cx="379.73" cy="236.98" r="1.1" fill="#f28a00"/>
<circle cx="392.59" cy="236.98" r="1.1" fill="#f28a00"/>
<circle cx="399.02" cy="248.02" r="1.1" fill="#f28a00"/>
<polyline points="373.30,248.02 379.73,244.34 386.16,240.66 399.02,244.34 424.73,244.34 450.45,244.34" fill="none" stroke="#4a7db8" stroke-width="1.25" stroke-linejoin="round"/>
<circle cx="373.30" cy="248.02" r="1.1" fill="#4a7db8"/>
<circle cx="379.73" cy="244.34" r="1.1" fill="#4a7db8"/>
<circle cx="386.16" cy="240.66" r="1.1" fill="#4a7db8"/>
<circle cx="399.02" cy="244.34" r="1.1" fill="#4a7db8"/>
<circle cx="424.73" cy="244.34" r="1.1" fill="#4a7db8"/>
<circle cx="450.45" cy="244.34" r="1.1" fill="#4a7db8"/>
<polyline points="379.73,207.54 392.59,189.14 399.02,185.46 411.87,189.14 424.73,196.50 450.45,196.50 476.16,196.50" fill="none" stroke="#7ea2cc" stroke-width="1.25" stroke-linejoin="round"/>
<circle cx="379.73" cy="207.54" r="1.1" fill="#7ea2cc"/>
<circle cx="392.59" cy="189.14" r="1.1" fill="#7ea2cc"/>
<circle cx="399.02" cy="185.46" r="1.1" fill="#7ea2cc"/>
<circle cx="411.87" cy="189.14" r="1.1" fill="#7ea2cc"/>
<circle cx="424.73" cy="196.50" r="1.1" fill="#7ea2cc"/>
<circle cx="450.45" cy="196.50" r="1.1" fill="#7ea2cc"/>
<circle cx="476.16" cy="196.50" r="1.1" fill="#7ea2cc"/>
<polyline points="379.73,236.98 386.16,236.98 399.02,236.98 424.73,236.98 450.45,236.98" fill="none" stroke="#c8102e" stroke-width="1.25" stroke-linejoin="round"/>
<circle cx="379.73" cy="236.98" r="1.1" fill="#c8102e"/>
<circle cx="386.16" cy="236.98" r="1.1" fill="#c8102e"/>
<circle cx="399.02" cy="236.98" r="1.1" fill="#c8102e"/>
<circle cx="424.73" cy="236.98" r="1.1" fill="#c8102e"/>
<circle cx="450.45" cy="236.98" r="1.1" fill="#c8102e"/>
<polyline points="373.30,244.34 375.44,222.26 379.73,207.54" fill="none" stroke="#174a86" stroke-width="1.7" stroke-linejoin="round"/>
<circle cx="373.30" cy="244.34" r="1.1" fill="#174a86"/>
<circle cx="375.44" cy="222.26" r="1.1" fill="#174a86"/>
<circle cx="379.73" cy="207.54" r="1.1" fill="#174a86"/>
<line x1="486.50" y1="177.50" x2="495.00" y2="177.50" stroke="#c8102e" stroke-width="1.0"/>
<ellipse cx="490.75" cy="177.50" rx="1.0" ry="1.2" fill="#c8102e"/>
<text x="498.00" y="180.25" font-size="6.6" text-anchor="start" font-weight="normal" fill="#231f20" stroke="#231f20" stroke-width="0.18" >8</text>
<line x1="486.50" y1="184.50" x2="495.00" y2="184.50" stroke="#dc4664" stroke-width="1.0"/>
<ellipse cx="490.75" cy="184.50" rx="1.0" ry="1.2" fill="#dc4664"/>
<text x="498.00" y="186.72" font-size="6.6" text-anchor="start" font-weight="normal" fill="#231f20" stroke="#231f20" stroke-width="0.18" >12</text>
<line x1="486.50" y1="190.50" x2="495.00" y2="190.50" stroke="#ec8c9c" stroke-width="1.0"/>
<ellipse cx="490.75" cy="190.50" rx="1.0" ry="1.2" fill="#ec8c9c"/>
<text x="498.00" y="193.18" font-size="6.6" text-anchor="start" font-weight="normal" fill="#231f20" stroke="#231f20" stroke-width="0.18" >17</text>
<path d="M508.44,186.93L510.84,189.33M508.44,189.33L510.84,186.93" stroke="#231f20" stroke-width="0.7" fill="none"/>
<line x1="486.50" y1="197.50" x2="495.00" y2="197.50" stroke="#174a86" stroke-width="1.0"/>
<ellipse cx="490.75" cy="197.50" rx="1.0" ry="1.2" fill="#174a86"/>
<text x="498.00" y="199.65" font-size="6.6" text-anchor="start" font-weight="normal" fill="#231f20" stroke="#231f20" stroke-width="0.18" >19</text>
<text x="505.54" y="199.20" font-size="5.6" text-anchor="start" font-weight="normal" fill="#231f20" stroke="#231f20" stroke-width="0.1" >*</text>
<path d="M508.44,193.40L510.84,195.80M508.44,195.80L510.84,193.40" stroke="#231f20" stroke-width="0.7" fill="none"/>
<line x1="486.50" y1="203.50" x2="495.00" y2="203.50" stroke="#4a7db8" stroke-width="1.0"/>
<ellipse cx="490.75" cy="203.50" rx="1.0" ry="1.2" fill="#4a7db8"/>
<text x="498.00" y="206.11" font-size="6.6" text-anchor="start" font-weight="normal" fill="#231f20" stroke="#231f20" stroke-width="0.18" >21</text>
<line x1="486.50" y1="210.50" x2="495.00" y2="210.50" stroke="#7ea2cc" stroke-width="1.0"/>
<ellipse cx="490.75" cy="210.50" rx="1.0" ry="1.2" fill="#7ea2cc"/>
<text x="498.00" y="212.58" font-size="6.6" text-anchor="start" font-weight="normal" fill="#231f20" stroke="#231f20" stroke-width="0.18" >23</text>
<text x="505.54" y="212.13" font-size="5.6" text-anchor="start" font-weight="normal" fill="#231f20" stroke="#231f20" stroke-width="0.1" >*</text>
<line x1="486.50" y1="216.50" x2="495.00" y2="216.50" stroke="#2ca02c" stroke-width="1.0"/>
<ellipse cx="490.75" cy="216.50" rx="1.0" ry="1.2" fill="#2ca02c"/>
<text x="498.00" y="219.04" font-size="6.6" text-anchor="start" font-weight="normal" fill="#231f20" stroke="#231f20" stroke-width="0.18" >27</text>
<path d="M508.44,212.79L510.84,215.19M508.44,215.19L510.84,212.79" stroke="#231f20" stroke-width="0.7" fill="none"/>
<line x1="486.50" y1="223.50" x2="495.00" y2="223.50" stroke="#5cbf5c" stroke-width="1.0"/>
<ellipse cx="490.75" cy="223.50" rx="1.0" ry="1.2" fill="#5cbf5c"/>
<text x="498.00" y="225.50" font-size="6.6" text-anchor="start" font-weight="normal" fill="#231f20" stroke="#231f20" stroke-width="0.18" >31</text>
<text x="505.54" y="225.06" font-size="5.6" text-anchor="start" font-weight="normal" fill="#231f20" stroke="#231f20" stroke-width="0.1" >*</text>
<path d="M508.44,219.26L510.84,221.66M508.44,221.66L510.84,219.26" stroke="#231f20" stroke-width="0.7" fill="none"/>
<line x1="486.50" y1="229.50" x2="495.00" y2="229.50" stroke="#9fd89f" stroke-width="1.0"/>
<ellipse cx="490.75" cy="229.50" rx="1.0" ry="1.2" fill="#9fd89f"/>
<text x="498.00" y="231.97" font-size="6.6" text-anchor="start" font-weight="normal" fill="#231f20" stroke="#231f20" stroke-width="0.18" >42</text>
<text x="505.54" y="231.52" font-size="5.6" text-anchor="start" font-weight="normal" fill="#231f20" stroke="#231f20" stroke-width="0.1" >*</text>
<line x1="486.50" y1="236.50" x2="495.00" y2="236.50" stroke="#4b1570" stroke-width="1.0"/>
<ellipse cx="490.75" cy="236.50" rx="1.0" ry="1.2" fill="#4b1570"/>
<text x="498.00" y="238.44" font-size="6.6" text-anchor="start" font-weight="normal" fill="#231f20" stroke="#231f20" stroke-width="0.18" >45</text>
<line x1="486.50" y1="242.50" x2="495.00" y2="242.50" stroke="#8455a8" stroke-width="1.0"/>
<ellipse cx="490.75" cy="242.50" rx="1.0" ry="1.2" fill="#8455a8"/>
<text x="498.00" y="244.90" font-size="6.6" text-anchor="start" font-weight="normal" fill="#231f20" stroke="#231f20" stroke-width="0.18" >49</text>
<line x1="486.50" y1="249.50" x2="495.00" y2="249.50" stroke="#f28a00" stroke-width="1.0"/>
<ellipse cx="490.75" cy="249.50" rx="1.0" ry="1.2" fill="#f28a00"/>
<text x="498.00" y="251.36" font-size="6.6" text-anchor="start" font-weight="normal" fill="#231f20" stroke="#231f20" stroke-width="0.18" >52</text>
<line x1="486.50" y1="255.50" x2="495.00" y2="255.50" stroke="#f8aa40" stroke-width="1.0"/>
<ellipse cx="490.75" cy="255.50" rx="1.0" ry="1.2" fill="#f8aa40"/>
<text x="498.00" y="257.83" font-size="6.6" text-anchor="start" font-weight="normal" fill="#231f20" stroke="#231f20" stroke-width="0.18" >53</text>
<text x="505.54" y="257.38" font-size="5.6" text-anchor="start" font-weight="normal" fill="#231f20" stroke="#231f20" stroke-width="0.1" >*</text>
<line x1="486.50" y1="261.50" x2="495.00" y2="261.50" stroke="#fbcf90" stroke-width="1.0"/>
<ellipse cx="490.75" cy="261.50" rx="1.0" ry="1.2" fill="#fbcf90"/>
<text x="498.00" y="264.30" font-size="6.6" text-anchor="start" font-weight="normal" fill="#231f20" stroke="#231f20" stroke-width="0.18" >56</text>
<text x="505.54" y="263.84" font-size="5.6" text-anchor="start" font-weight="normal" fill="#231f20" stroke="#231f20" stroke-width="0.1" >*</text>
<path d="M508.44,258.05L510.84,260.44M508.44,260.44L510.84,258.05" stroke="#231f20" stroke-width="0.7" fill="none"/>
<line x1="486.50" y1="268.50" x2="495.00" y2="268.50" stroke="#24705a" stroke-width="1.0"/>
<ellipse cx="490.75" cy="268.50" rx="1.0" ry="1.2" fill="#24705a"/>
<text x="498.00" y="270.76" font-size="6.6" text-anchor="start" font-weight="normal" fill="#231f20" stroke="#231f20" stroke-width="0.18" >57</text>
<text x="37.90" y="291.70" font-size="6.88" text-anchor="start" font-weight="normal" fill="#231f20" stroke="#231f20" stroke-width="0.15" textLength="402.9" lengthAdjust="spacingAndGlyphs">Data shown only for scheduled visits; Data for patients excluded from the efficacy analyses stratified by disease stage are not shown</text>
<path d="M38.00,295.10L39.80,296.90M38.00,296.90L39.80,295.10" stroke="#231f20" stroke-width="0.45" fill="none"/>
<text x="40.30" y="300.10" font-size="6.88" text-anchor="start" font-weight="normal" fill="#231f20" stroke="#231f20" stroke-width="0.15" >Patients that died</text>
<text x="37.60" y="307.40" font-size="6.0" text-anchor="start" font-weight="normal" fill="#231f20" stroke="#231f20" stroke-width="0.25" >*</text>
<text x="40.30" y="308.60" font-size="6.88" text-anchor="start" font-weight="normal" fill="#231f20" stroke="#231f20" stroke-width="0.15" >Patients that developed major functional disabilities</text>
</svg></body></html>
